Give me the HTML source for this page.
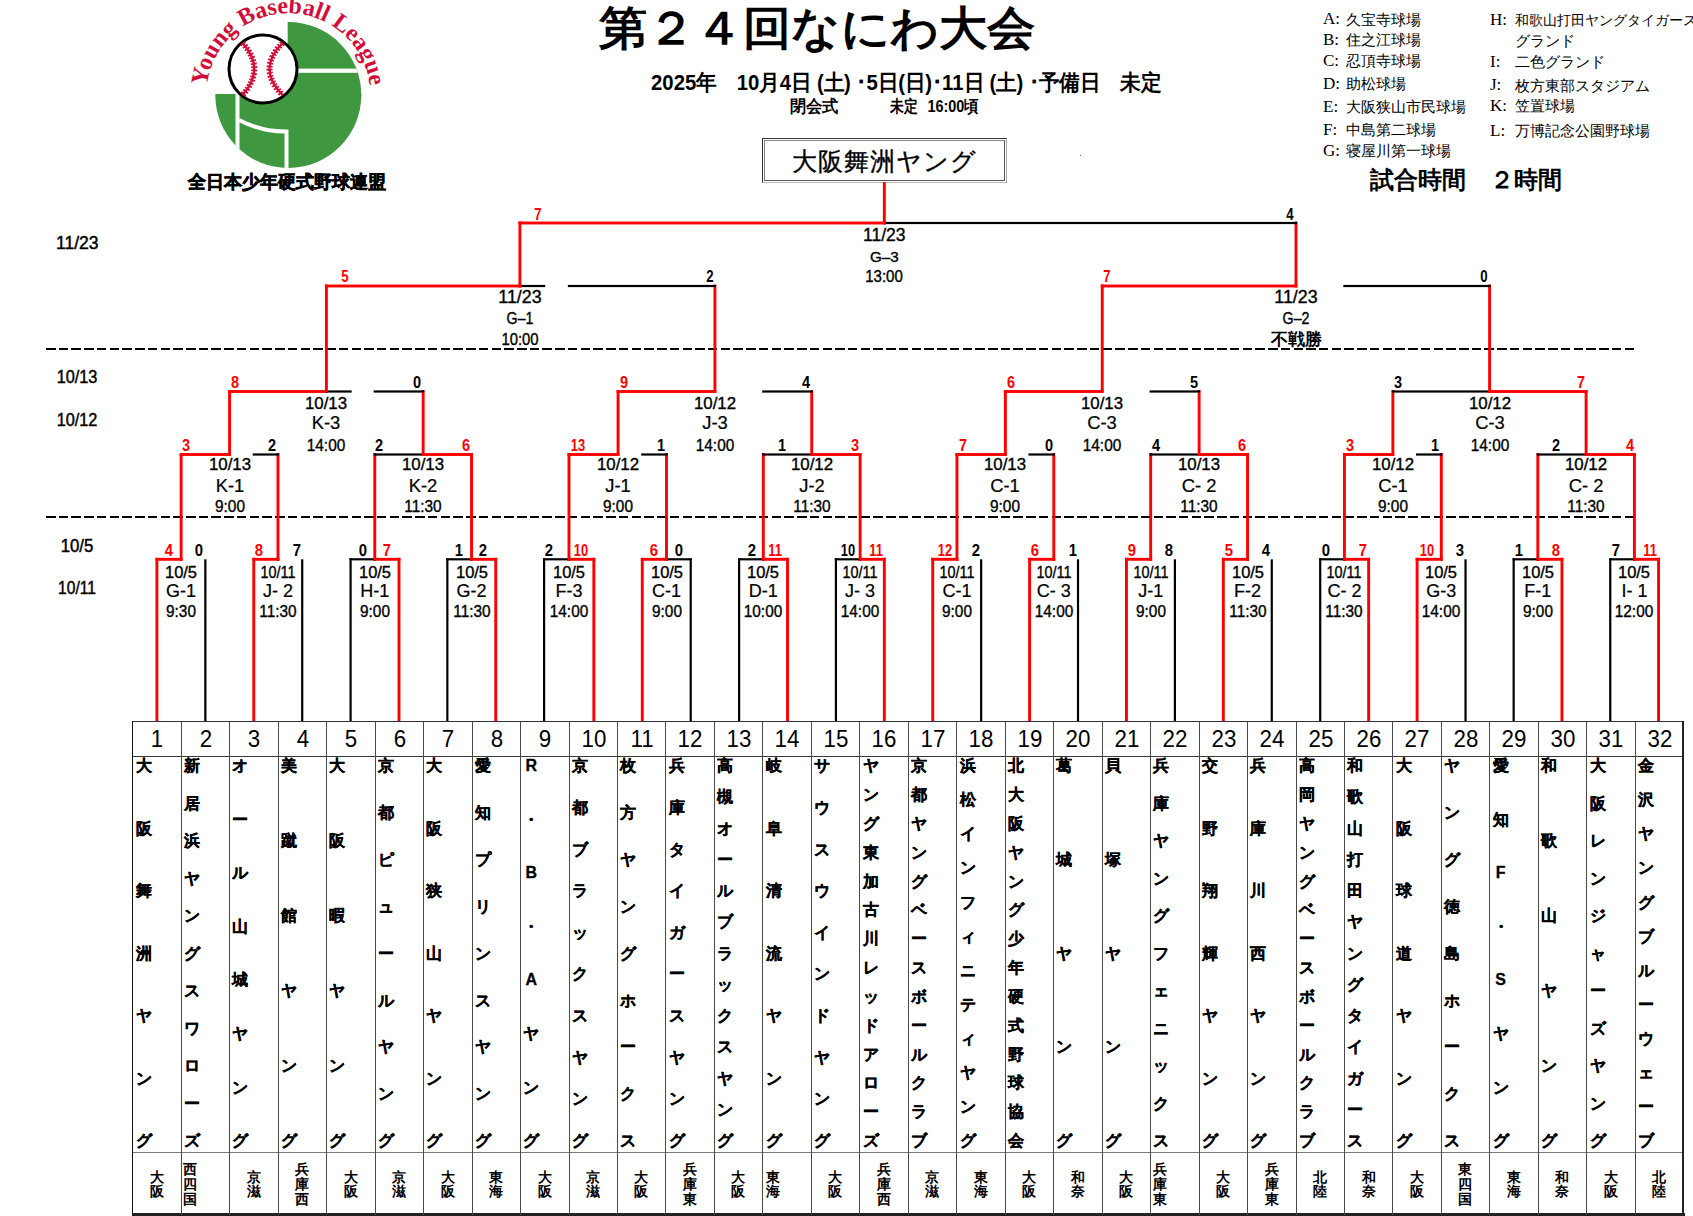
<!DOCTYPE html>
<html><head><meta charset="utf-8">
<style>
html,body{margin:0;padding:0;background:#fff;}
body{width:1693px;height:1216px;position:relative;overflow:hidden;font-family:"Liberation Sans",sans-serif;}
body div{position:absolute;}
.t{white-space:nowrap;line-height:1;}
.l{white-space:nowrap;line-height:1;color:#000;}
</style></head><body>
<svg style="position:absolute;left:0;top:0" width="420" height="200" viewBox="0 0 420 200">
<defs>
<clipPath id="gc"><circle cx="288.3" cy="95" r="73"/></clipPath>
<path id="arc" d="M 211.2 123.1 A 82 82 0 1 1 365.4 123.1"/>
</defs>
<g clip-path="url(#gc)">
<rect x="214" y="94" width="160" height="80" fill="#3f983f"/>
<rect x="287.7" y="20" width="80" height="80" fill="#3f983f"/>
<rect x="235.5" y="93" width="4" height="80" fill="#fff"/>
<rect x="298" y="68.6" width="80" height="4.2" fill="#fff"/>
<path d="M 239 120 Q 262 132 286.5 131.5 L 286.5 175" stroke="#fff" stroke-width="4" fill="none"/>
</g>
<circle cx="263" cy="69" r="34" fill="#fff" stroke="#000" stroke-width="3"/>
<path d="M 242.5 43 Q 266 69 242.5 95" stroke="#d0103a" stroke-width="2.4" fill="none"/>
<path d="M 282.6 43 Q 256.4 69 282.6 95" stroke="#d0103a" stroke-width="2.4" fill="none"/>
<path d="M 242.5 43 Q 266 69 242.5 95" stroke="#d0103a" stroke-width="6" stroke-dasharray="1.8 1.5" fill="none"/>
<path d="M 282.6 43 Q 256.4 69 282.6 95" stroke="#d0103a" stroke-width="6" stroke-dasharray="1.8 1.5" fill="none"/>
<text font-family="Liberation Serif, serif" font-size="24" font-weight="bold" fill="#d0103a"><textPath href="#arc" startOffset="50%" text-anchor="middle">Young Baseball League</textPath></text>
</svg><div class="t" style="left:287.2px;top:183.1px;font-size:17.5px;font-weight:bold;color:#000;transform:translate(-50%,-50%);font-family:'Liberation Serif', serif;-webkit-text-stroke:0.6px #000;">全日本少年硬式野球連盟</div>
<div class="t" style="left:816.5px;top:27.5px;font-size:46px;font-weight:bold;color:#000;transform:translate(-50%,-50%) scale(1.047,1.0);font-family:'Liberation Sans', sans-serif;">第２４回なにわ大会</div>
<div class="t" style="left:905.5px;top:81.5px;font-size:20px;font-weight:bold;color:#000;transform:translate(-50%,-50%) scale(1.015,1.08);font-family:'Liberation Sans', sans-serif;">2025年　10月4日 (土) ･5日(日)･11日 (土) ･予備日　未定</div>
<div class="t" style="left:814.3px;top:107.0px;font-size:16px;font-weight:bold;color:#000;transform:translate(-50%,-50%) scale(1.0,1.05);font-family:'Liberation Sans', sans-serif;">閉会式</div>
<div class="t" style="left:903.8px;top:107.0px;font-size:16px;font-weight:bold;color:#000;transform:translate(-50%,-50%) scale(0.85,1.05);font-family:'Liberation Sans', sans-serif;">未定</div>
<div class="t" style="left:953.0px;top:107.0px;font-size:16px;font-weight:bold;color:#000;transform:translate(-50%,-50%) scale(0.9,1.05);font-family:'Liberation Sans', sans-serif;">16:00頃</div>
<div class="t" style="left:1466.0px;top:180.0px;font-size:24px;font-weight:bold;color:#000;transform:translate(-50%,-50%);font-family:'Liberation Sans', sans-serif;">試合時間　２時間</div>
<div style="left:762px;top:138px;width:245px;height:45px;border-style:solid;border-width:1px;border-color:#333 #aaa #bbb #333;box-sizing:border-box;"></div>
<div style="left:764px;top:140px;width:241px;height:41px;border-style:solid;border-width:1px;border-color:#888 #555 #555 #888;box-sizing:border-box;"></div>
<div class="t" style="left:884.0px;top:160.5px;font-size:25px;font-weight:normal;color:#000;transform:translate(-50%,-50%);font-family:'Liberation Sans', sans-serif;-webkit-text-stroke:0.35px #000;letter-spacing:1px;">大阪舞洲ヤング</div>
<div style="left:1080px;top:155px;width:1px;height:1px;background:#555"></div>
<div class="l" style="left:1323px;top:10.2px;font-size:17px;font-family:'Liberation Serif',serif">A:</div>
<div class="l" style="left:1346px;top:12.5px;font-size:14.5px;">久宝寺球場</div>
<div class="l" style="left:1323px;top:30.7px;font-size:17px;font-family:'Liberation Serif',serif">B:</div>
<div class="l" style="left:1346px;top:33.0px;font-size:14.5px;">住之江球場</div>
<div class="l" style="left:1323px;top:51.7px;font-size:17px;font-family:'Liberation Serif',serif">C:</div>
<div class="l" style="left:1346px;top:54.0px;font-size:14.5px;">忍頂寺球場</div>
<div class="l" style="left:1323px;top:74.7px;font-size:17px;font-family:'Liberation Serif',serif">D:</div>
<div class="l" style="left:1346px;top:77.0px;font-size:14.5px;">助松球場</div>
<div class="l" style="left:1323px;top:97.7px;font-size:17px;font-family:'Liberation Serif',serif">E:</div>
<div class="l" style="left:1346px;top:100.0px;font-size:14.5px;">大阪狭山市民球場</div>
<div class="l" style="left:1323px;top:120.7px;font-size:17px;font-family:'Liberation Serif',serif">F:</div>
<div class="l" style="left:1346px;top:123.0px;font-size:14.5px;">中島第二球場</div>
<div class="l" style="left:1323px;top:141.7px;font-size:17px;font-family:'Liberation Serif',serif">G:</div>
<div class="l" style="left:1346px;top:144.0px;font-size:14.5px;">寝屋川第一球場</div>
<div class="l" style="left:1490px;top:10.7px;font-size:17px;font-family:'Liberation Serif',serif">H:</div>
<div class="l" style="left:1515px;top:13.0px;font-size:14px;white-space:nowrap">和歌山打田ヤングタイガース</div>
<div class="l" style="left:1515px;top:34.0px;font-size:14.5px;white-space:nowrap">グランド</div>
<div class="l" style="left:1490px;top:52.7px;font-size:17px;font-family:'Liberation Serif',serif">I:</div>
<div class="l" style="left:1515px;top:55.0px;font-size:14.5px;white-space:nowrap">二色グランド</div>
<div class="l" style="left:1490px;top:76.2px;font-size:17px;font-family:'Liberation Serif',serif">J:</div>
<div class="l" style="left:1515px;top:78.5px;font-size:14.5px;white-space:nowrap">枚方東部スタジアム</div>
<div class="l" style="left:1490px;top:96.7px;font-size:17px;font-family:'Liberation Serif',serif">K:</div>
<div class="l" style="left:1515px;top:99.0px;font-size:14.5px;white-space:nowrap">笠置球場</div>
<div class="l" style="left:1490px;top:121.7px;font-size:17px;font-family:'Liberation Serif',serif">L:</div>
<div class="l" style="left:1515px;top:124.0px;font-size:14.5px;white-space:nowrap">万博記念公園野球場</div>
<div class="t" style="left:77.3px;top:243.8px;font-size:17.5px;font-weight:normal;color:#000;transform:translate(-50%,-50%);font-family:'Liberation Sans', sans-serif;-webkit-text-stroke:0.45px #000;">11/23</div>
<div class="t" style="left:77.3px;top:378.2px;font-size:17.5px;font-weight:normal;color:#000;transform:translate(-50%,-50%) scale(0.93,1.0);font-family:'Liberation Sans', sans-serif;-webkit-text-stroke:0.45px #000;">10/13</div>
<div class="t" style="left:77.3px;top:421.2px;font-size:17.5px;font-weight:normal;color:#000;transform:translate(-50%,-50%) scale(0.93,1.0);font-family:'Liberation Sans', sans-serif;-webkit-text-stroke:0.45px #000;">10/12</div>
<div class="t" style="left:77.3px;top:547.3px;font-size:17.5px;font-weight:normal;color:#000;transform:translate(-50%,-50%) scale(0.96,1.0);font-family:'Liberation Sans', sans-serif;-webkit-text-stroke:0.45px #000;">10/5</div>
<div class="t" style="left:77.3px;top:589.1px;font-size:17.5px;font-weight:normal;color:#000;transform:translate(-50%,-50%) scale(0.89,1.0);font-family:'Liberation Sans', sans-serif;-webkit-text-stroke:0.45px #000;">10/11</div>
<div style="left:45.9px;top:347.6px;width:1589.1px;height:2.2px;background:repeating-linear-gradient(90deg,#000 0 9.5px,transparent 9.5px 12.73px)"></div>
<div style="left:45.9px;top:515.9px;width:1589.1px;height:2.2px;background:repeating-linear-gradient(90deg,#000 0 9.5px,transparent 9.5px 12.73px)"></div>
<svg style="position:absolute;left:0;top:0" width="1693" height="1216"><rect x="155.45" y="557.80" width="2.90" height="164.20" fill="#ff0000"/>
<rect x="155.45" y="557.85" width="27.12" height="2.90" fill="#ff0000"/>
<rect x="204.24" y="559.30" width="2.20" height="162.70" fill="#000000"/>
<rect x="179.67" y="453.00" width="2.90" height="107.80" fill="#ff0000"/>
<rect x="252.33" y="557.80" width="2.90" height="164.20" fill="#ff0000"/>
<rect x="252.33" y="557.85" width="27.12" height="2.90" fill="#ff0000"/>
<rect x="301.11" y="559.30" width="2.20" height="162.70" fill="#000000"/>
<rect x="276.54" y="453.00" width="2.90" height="107.80" fill="#ff0000"/>
<rect x="397.52" y="557.80" width="2.90" height="164.20" fill="#ff0000"/>
<rect x="373.33" y="557.85" width="27.09" height="2.90" fill="#ff0000"/>
<rect x="349.49" y="558.20" width="26.39" height="2.20" fill="#000000"/>
<rect x="349.49" y="558.30" width="2.20" height="163.70" fill="#000000"/>
<rect x="373.33" y="453.00" width="2.90" height="107.80" fill="#ff0000"/>
<rect x="494.28" y="557.80" width="2.90" height="164.20" fill="#ff0000"/>
<rect x="470.09" y="557.85" width="27.09" height="2.90" fill="#ff0000"/>
<rect x="446.25" y="558.20" width="26.39" height="2.20" fill="#000000"/>
<rect x="446.25" y="558.30" width="2.20" height="163.70" fill="#000000"/>
<rect x="470.09" y="453.00" width="2.90" height="107.80" fill="#ff0000"/>
<rect x="592.39" y="557.80" width="2.90" height="164.20" fill="#ff0000"/>
<rect x="567.52" y="557.85" width="27.77" height="2.90" fill="#ff0000"/>
<rect x="543.00" y="558.20" width="27.07" height="2.20" fill="#000000"/>
<rect x="543.00" y="558.30" width="2.20" height="163.70" fill="#000000"/>
<rect x="567.52" y="453.00" width="2.90" height="107.80" fill="#ff0000"/>
<rect x="640.83" y="557.80" width="2.90" height="164.20" fill="#ff0000"/>
<rect x="640.83" y="557.85" width="27.12" height="2.90" fill="#ff0000"/>
<rect x="665.40" y="558.20" width="26.42" height="2.20" fill="#000000"/>
<rect x="689.62" y="558.30" width="2.20" height="163.70" fill="#000000"/>
<rect x="665.05" y="453.00" width="2.90" height="107.80" fill="#ff0000"/>
<rect x="786.07" y="557.80" width="2.90" height="164.20" fill="#ff0000"/>
<rect x="761.87" y="557.85" width="27.10" height="2.90" fill="#ff0000"/>
<rect x="738.02" y="558.20" width="26.40" height="2.20" fill="#000000"/>
<rect x="738.02" y="558.30" width="2.20" height="163.70" fill="#000000"/>
<rect x="761.87" y="453.00" width="2.90" height="107.80" fill="#ff0000"/>
<rect x="882.87" y="557.80" width="2.90" height="164.20" fill="#ff0000"/>
<rect x="858.67" y="557.85" width="27.10" height="2.90" fill="#ff0000"/>
<rect x="834.82" y="558.20" width="26.40" height="2.20" fill="#000000"/>
<rect x="834.82" y="558.30" width="2.20" height="163.70" fill="#000000"/>
<rect x="858.67" y="453.00" width="2.90" height="107.80" fill="#ff0000"/>
<rect x="931.29" y="557.80" width="2.90" height="164.20" fill="#ff0000"/>
<rect x="931.29" y="557.85" width="27.11" height="2.90" fill="#ff0000"/>
<rect x="980.06" y="559.30" width="2.20" height="162.70" fill="#000000"/>
<rect x="955.50" y="453.00" width="2.90" height="107.80" fill="#ff0000"/>
<rect x="1028.13" y="557.80" width="2.90" height="164.20" fill="#ff0000"/>
<rect x="1028.13" y="557.85" width="27.12" height="2.90" fill="#ff0000"/>
<rect x="1076.92" y="559.30" width="2.20" height="162.70" fill="#000000"/>
<rect x="1052.35" y="453.00" width="2.90" height="107.80" fill="#ff0000"/>
<rect x="1125.01" y="557.80" width="2.90" height="164.20" fill="#ff0000"/>
<rect x="1125.01" y="557.85" width="27.12" height="2.90" fill="#ff0000"/>
<rect x="1173.80" y="559.30" width="2.20" height="162.70" fill="#000000"/>
<rect x="1149.23" y="453.00" width="2.90" height="107.80" fill="#ff0000"/>
<rect x="1221.88" y="557.80" width="2.90" height="164.20" fill="#ff0000"/>
<rect x="1221.88" y="557.85" width="27.12" height="2.90" fill="#ff0000"/>
<rect x="1270.67" y="559.30" width="2.20" height="162.70" fill="#000000"/>
<rect x="1246.10" y="453.00" width="2.90" height="107.80" fill="#ff0000"/>
<rect x="1367.20" y="557.80" width="2.90" height="164.20" fill="#ff0000"/>
<rect x="1342.98" y="557.85" width="27.12" height="2.90" fill="#ff0000"/>
<rect x="1319.11" y="558.20" width="26.42" height="2.20" fill="#000000"/>
<rect x="1319.11" y="558.30" width="2.20" height="163.70" fill="#000000"/>
<rect x="1342.98" y="453.00" width="2.90" height="107.80" fill="#ff0000"/>
<rect x="1415.64" y="557.80" width="2.90" height="164.20" fill="#ff0000"/>
<rect x="1415.64" y="557.85" width="27.12" height="2.90" fill="#ff0000"/>
<rect x="1464.43" y="559.30" width="2.20" height="162.70" fill="#000000"/>
<rect x="1439.86" y="453.00" width="2.90" height="107.80" fill="#ff0000"/>
<rect x="1560.51" y="557.80" width="2.90" height="164.20" fill="#ff0000"/>
<rect x="1536.36" y="557.85" width="27.05" height="2.90" fill="#ff0000"/>
<rect x="1512.56" y="558.20" width="26.35" height="2.20" fill="#000000"/>
<rect x="1512.56" y="558.30" width="2.20" height="163.70" fill="#000000"/>
<rect x="1536.36" y="453.00" width="2.90" height="107.80" fill="#ff0000"/>
<rect x="1657.10" y="557.80" width="2.90" height="164.20" fill="#ff0000"/>
<rect x="1632.95" y="557.85" width="27.05" height="2.90" fill="#ff0000"/>
<rect x="1609.15" y="558.20" width="26.35" height="2.20" fill="#000000"/>
<rect x="1609.15" y="558.30" width="2.20" height="163.70" fill="#000000"/>
<rect x="1632.95" y="453.00" width="2.90" height="107.80" fill="#ff0000"/>
<rect x="179.67" y="453.05" width="51.34" height="2.90" fill="#ff0000"/>
<rect x="252.68" y="453.40" width="26.42" height="2.20" fill="#000000"/>
<rect x="228.11" y="390.00" width="2.90" height="65.50" fill="#ff0000"/>
<rect x="373.68" y="453.40" width="50.58" height="2.20" fill="#000000"/>
<rect x="421.71" y="453.05" width="51.28" height="2.90" fill="#ff0000"/>
<rect x="421.71" y="390.00" width="2.90" height="65.50" fill="#ff0000"/>
<rect x="567.52" y="453.05" width="51.99" height="2.90" fill="#ff0000"/>
<rect x="641.18" y="453.40" width="26.42" height="2.20" fill="#000000"/>
<rect x="616.61" y="390.00" width="2.90" height="65.50" fill="#ff0000"/>
<rect x="762.22" y="453.40" width="50.60" height="2.20" fill="#000000"/>
<rect x="810.27" y="453.05" width="51.30" height="2.90" fill="#ff0000"/>
<rect x="810.27" y="390.00" width="2.90" height="65.50" fill="#ff0000"/>
<rect x="955.50" y="453.05" width="51.32" height="2.90" fill="#ff0000"/>
<rect x="1028.48" y="453.40" width="26.42" height="2.20" fill="#000000"/>
<rect x="1003.92" y="390.00" width="2.90" height="65.50" fill="#ff0000"/>
<rect x="1149.58" y="453.40" width="50.64" height="2.20" fill="#000000"/>
<rect x="1197.67" y="453.05" width="51.34" height="2.90" fill="#ff0000"/>
<rect x="1197.67" y="390.00" width="2.90" height="65.50" fill="#ff0000"/>
<rect x="1342.98" y="453.05" width="51.34" height="2.90" fill="#ff0000"/>
<rect x="1415.99" y="453.40" width="26.42" height="2.20" fill="#000000"/>
<rect x="1391.42" y="390.00" width="2.90" height="65.50" fill="#ff0000"/>
<rect x="1536.71" y="453.40" width="50.50" height="2.20" fill="#000000"/>
<rect x="1584.66" y="453.05" width="51.20" height="2.90" fill="#ff0000"/>
<rect x="1584.66" y="390.00" width="2.90" height="65.50" fill="#ff0000"/>
<rect x="228.11" y="390.05" width="99.75" height="2.90" fill="#ff0000"/>
<rect x="325.30" y="390.40" width="26.39" height="2.20" fill="#000000"/>
<rect x="373.68" y="390.40" width="50.58" height="2.20" fill="#000000"/>
<rect x="324.95" y="284.50" width="2.90" height="108.00" fill="#ff0000"/>
<rect x="616.61" y="390.05" width="99.76" height="2.90" fill="#ff0000"/>
<rect x="762.22" y="390.40" width="50.60" height="2.20" fill="#000000"/>
<rect x="713.47" y="284.50" width="2.90" height="108.00" fill="#ff0000"/>
<rect x="1003.92" y="390.05" width="99.77" height="2.90" fill="#ff0000"/>
<rect x="1149.58" y="390.40" width="50.64" height="2.20" fill="#000000"/>
<rect x="1100.79" y="284.50" width="2.90" height="108.00" fill="#ff0000"/>
<rect x="1391.77" y="390.40" width="98.93" height="2.20" fill="#000000"/>
<rect x="1488.14" y="390.05" width="99.41" height="2.90" fill="#ff0000"/>
<rect x="1488.14" y="284.50" width="2.90" height="108.00" fill="#ff0000"/>
<rect x="324.95" y="284.55" width="196.41" height="2.90" fill="#ff0000"/>
<rect x="518.81" y="284.90" width="26.39" height="2.20" fill="#000000"/>
<rect x="567.87" y="284.90" width="148.15" height="2.20" fill="#000000"/>
<rect x="518.46" y="221.50" width="2.90" height="66.00" fill="#ff0000"/>
<rect x="1100.79" y="284.55" width="196.65" height="2.90" fill="#ff0000"/>
<rect x="1343.33" y="284.90" width="147.36" height="2.20" fill="#000000"/>
<rect x="1294.54" y="221.50" width="2.90" height="66.00" fill="#ff0000"/>
<rect x="518.46" y="221.55" width="367.31" height="2.90" fill="#ff0000"/>
<rect x="883.22" y="221.90" width="413.87" height="2.20" fill="#000000"/>
<rect x="882.87" y="182.00" width="2.90" height="42.50" fill="#ff0000"/></svg>
<div class="t" style="left:169.0px;top:550.0px;font-size:16.5px;font-weight:bold;color:#ff0000;transform:translate(-50%,-50%) scale(0.9,1.0);font-family:'Liberation Sans', sans-serif;">4</div>
<div class="t" style="left:199.0px;top:550.0px;font-size:16.5px;font-weight:bold;color:#000000;transform:translate(-50%,-50%) scale(0.9,1.0);font-family:'Liberation Sans', sans-serif;">0</div>
<div class="t" style="left:181.1px;top:572.6px;font-size:16px;font-weight:normal;color:#000;transform:translate(-50%,-50%) scale(1.03,1.0);font-family:'Liberation Sans', sans-serif;-webkit-text-stroke:0.35px #000;">10/5</div>
<div class="t" style="left:181.1px;top:590.5px;font-size:18px;font-weight:normal;color:#000;transform:translate(-50%,-50%);font-family:'Liberation Sans', sans-serif;-webkit-text-stroke:0.2px #000;">G-1</div>
<div class="t" style="left:181.1px;top:612.3px;font-size:16px;font-weight:normal;color:#000;transform:translate(-50%,-50%) scale(0.96,1.0);font-family:'Liberation Sans', sans-serif;-webkit-text-stroke:0.35px #000;">9:30</div>
<div class="t" style="left:259.0px;top:550.0px;font-size:16.5px;font-weight:bold;color:#ff0000;transform:translate(-50%,-50%) scale(0.9,1.0);font-family:'Liberation Sans', sans-serif;">8</div>
<div class="t" style="left:297.0px;top:550.0px;font-size:16.5px;font-weight:bold;color:#000000;transform:translate(-50%,-50%) scale(0.9,1.0);font-family:'Liberation Sans', sans-serif;">7</div>
<div class="t" style="left:278.0px;top:572.6px;font-size:16px;font-weight:normal;color:#000;transform:translate(-50%,-50%) scale(0.9,1.0);font-family:'Liberation Sans', sans-serif;-webkit-text-stroke:0.35px #000;">10/11</div>
<div class="t" style="left:278.0px;top:590.5px;font-size:18px;font-weight:normal;color:#000;transform:translate(-50%,-50%);font-family:'Liberation Sans', sans-serif;-webkit-text-stroke:0.2px #000;">J- 2</div>
<div class="t" style="left:278.0px;top:612.3px;font-size:16px;font-weight:normal;color:#000;transform:translate(-50%,-50%) scale(0.96,1.0);font-family:'Liberation Sans', sans-serif;-webkit-text-stroke:0.35px #000;">11:30</div>
<div class="t" style="left:362.7px;top:550.0px;font-size:16.5px;font-weight:bold;color:#000000;transform:translate(-50%,-50%) scale(0.9,1.0);font-family:'Liberation Sans', sans-serif;">0</div>
<div class="t" style="left:386.5px;top:550.0px;font-size:16.5px;font-weight:bold;color:#ff0000;transform:translate(-50%,-50%) scale(0.9,1.0);font-family:'Liberation Sans', sans-serif;">7</div>
<div class="t" style="left:374.8px;top:572.6px;font-size:16px;font-weight:normal;color:#000;transform:translate(-50%,-50%) scale(1.03,1.0);font-family:'Liberation Sans', sans-serif;-webkit-text-stroke:0.35px #000;">10/5</div>
<div class="t" style="left:374.8px;top:590.5px;font-size:18px;font-weight:normal;color:#000;transform:translate(-50%,-50%);font-family:'Liberation Sans', sans-serif;-webkit-text-stroke:0.2px #000;">H-1</div>
<div class="t" style="left:374.8px;top:612.3px;font-size:16px;font-weight:normal;color:#000;transform:translate(-50%,-50%) scale(0.96,1.0);font-family:'Liberation Sans', sans-serif;-webkit-text-stroke:0.35px #000;">9:00</div>
<div class="t" style="left:458.5px;top:550.0px;font-size:16.5px;font-weight:bold;color:#000;transform:translate(-50%,-50%) scale(0.9,1.0);font-family:'Liberation Sans', sans-serif;">1</div>
<div class="t" style="left:483.4px;top:550.0px;font-size:16.5px;font-weight:bold;color:#000;transform:translate(-50%,-50%) scale(0.9,1.0);font-family:'Liberation Sans', sans-serif;">2</div>
<div class="t" style="left:471.5px;top:572.6px;font-size:16px;font-weight:normal;color:#000;transform:translate(-50%,-50%) scale(1.03,1.0);font-family:'Liberation Sans', sans-serif;-webkit-text-stroke:0.35px #000;">10/5</div>
<div class="t" style="left:471.5px;top:590.5px;font-size:18px;font-weight:normal;color:#000;transform:translate(-50%,-50%);font-family:'Liberation Sans', sans-serif;-webkit-text-stroke:0.2px #000;">G-2</div>
<div class="t" style="left:471.5px;top:612.3px;font-size:16px;font-weight:normal;color:#000;transform:translate(-50%,-50%) scale(0.96,1.0);font-family:'Liberation Sans', sans-serif;-webkit-text-stroke:0.35px #000;">11:30</div>
<div class="t" style="left:548.8px;top:550.0px;font-size:16.5px;font-weight:bold;color:#000000;transform:translate(-50%,-50%) scale(0.9,1.0);font-family:'Liberation Sans', sans-serif;">2</div>
<div class="t" style="left:581.4px;top:550.0px;font-size:16.5px;font-weight:bold;color:#ff0000;transform:translate(-50%,-50%) scale(0.78,1.0);font-family:'Liberation Sans', sans-serif;">10</div>
<div class="t" style="left:569.0px;top:572.6px;font-size:16px;font-weight:normal;color:#000;transform:translate(-50%,-50%) scale(1.03,1.0);font-family:'Liberation Sans', sans-serif;-webkit-text-stroke:0.35px #000;">10/5</div>
<div class="t" style="left:569.0px;top:590.5px;font-size:18px;font-weight:normal;color:#000;transform:translate(-50%,-50%);font-family:'Liberation Sans', sans-serif;-webkit-text-stroke:0.2px #000;">F-3</div>
<div class="t" style="left:569.0px;top:612.3px;font-size:16px;font-weight:normal;color:#000;transform:translate(-50%,-50%) scale(0.96,1.0);font-family:'Liberation Sans', sans-serif;-webkit-text-stroke:0.35px #000;">14:00</div>
<div class="t" style="left:654.2px;top:550.0px;font-size:16.5px;font-weight:bold;color:#ff0000;transform:translate(-50%,-50%) scale(0.9,1.0);font-family:'Liberation Sans', sans-serif;">6</div>
<div class="t" style="left:678.8px;top:550.0px;font-size:16.5px;font-weight:bold;color:#000000;transform:translate(-50%,-50%) scale(0.9,1.0);font-family:'Liberation Sans', sans-serif;">0</div>
<div class="t" style="left:666.5px;top:572.6px;font-size:16px;font-weight:normal;color:#000;transform:translate(-50%,-50%) scale(1.03,1.0);font-family:'Liberation Sans', sans-serif;-webkit-text-stroke:0.35px #000;">10/5</div>
<div class="t" style="left:666.5px;top:590.5px;font-size:18px;font-weight:normal;color:#000;transform:translate(-50%,-50%);font-family:'Liberation Sans', sans-serif;-webkit-text-stroke:0.2px #000;">C-1</div>
<div class="t" style="left:666.5px;top:612.3px;font-size:16px;font-weight:normal;color:#000;transform:translate(-50%,-50%) scale(0.96,1.0);font-family:'Liberation Sans', sans-serif;-webkit-text-stroke:0.35px #000;">9:00</div>
<div class="t" style="left:751.5px;top:550.0px;font-size:16.5px;font-weight:bold;color:#000000;transform:translate(-50%,-50%) scale(0.9,1.0);font-family:'Liberation Sans', sans-serif;">2</div>
<div class="t" style="left:775.2px;top:550.0px;font-size:16.5px;font-weight:bold;color:#ff0000;transform:translate(-50%,-50%) scale(0.78,1.0);font-family:'Liberation Sans', sans-serif;">11</div>
<div class="t" style="left:763.3px;top:572.6px;font-size:16px;font-weight:normal;color:#000;transform:translate(-50%,-50%) scale(1.03,1.0);font-family:'Liberation Sans', sans-serif;-webkit-text-stroke:0.35px #000;">10/5</div>
<div class="t" style="left:763.3px;top:590.5px;font-size:18px;font-weight:normal;color:#000;transform:translate(-50%,-50%);font-family:'Liberation Sans', sans-serif;-webkit-text-stroke:0.2px #000;">D-1</div>
<div class="t" style="left:763.3px;top:612.3px;font-size:16px;font-weight:normal;color:#000;transform:translate(-50%,-50%) scale(0.96,1.0);font-family:'Liberation Sans', sans-serif;-webkit-text-stroke:0.35px #000;">10:00</div>
<div class="t" style="left:848.4px;top:550.0px;font-size:16.5px;font-weight:bold;color:#000000;transform:translate(-50%,-50%) scale(0.78,1.0);font-family:'Liberation Sans', sans-serif;">10</div>
<div class="t" style="left:875.6px;top:550.0px;font-size:16.5px;font-weight:bold;color:#ff0000;transform:translate(-50%,-50%) scale(0.78,1.0);font-family:'Liberation Sans', sans-serif;">11</div>
<div class="t" style="left:860.1px;top:572.6px;font-size:16px;font-weight:normal;color:#000;transform:translate(-50%,-50%) scale(0.9,1.0);font-family:'Liberation Sans', sans-serif;-webkit-text-stroke:0.35px #000;">10/11</div>
<div class="t" style="left:860.1px;top:590.5px;font-size:18px;font-weight:normal;color:#000;transform:translate(-50%,-50%);font-family:'Liberation Sans', sans-serif;-webkit-text-stroke:0.2px #000;">J- 3</div>
<div class="t" style="left:860.1px;top:612.3px;font-size:16px;font-weight:normal;color:#000;transform:translate(-50%,-50%) scale(0.96,1.0);font-family:'Liberation Sans', sans-serif;-webkit-text-stroke:0.35px #000;">14:00</div>
<div class="t" style="left:945.4px;top:550.0px;font-size:16.5px;font-weight:bold;color:#ff0000;transform:translate(-50%,-50%) scale(0.78,1.0);font-family:'Liberation Sans', sans-serif;">12</div>
<div class="t" style="left:976.2px;top:550.0px;font-size:16.5px;font-weight:bold;color:#000000;transform:translate(-50%,-50%) scale(0.9,1.0);font-family:'Liberation Sans', sans-serif;">2</div>
<div class="t" style="left:957.0px;top:572.6px;font-size:16px;font-weight:normal;color:#000;transform:translate(-50%,-50%) scale(0.9,1.0);font-family:'Liberation Sans', sans-serif;-webkit-text-stroke:0.35px #000;">10/11</div>
<div class="t" style="left:957.0px;top:590.5px;font-size:18px;font-weight:normal;color:#000;transform:translate(-50%,-50%);font-family:'Liberation Sans', sans-serif;-webkit-text-stroke:0.2px #000;">C-1</div>
<div class="t" style="left:957.0px;top:612.3px;font-size:16px;font-weight:normal;color:#000;transform:translate(-50%,-50%) scale(0.96,1.0);font-family:'Liberation Sans', sans-serif;-webkit-text-stroke:0.35px #000;">9:00</div>
<div class="t" style="left:1035.2px;top:550.0px;font-size:16.5px;font-weight:bold;color:#ff0000;transform:translate(-50%,-50%) scale(0.9,1.0);font-family:'Liberation Sans', sans-serif;">6</div>
<div class="t" style="left:1072.6px;top:550.0px;font-size:16.5px;font-weight:bold;color:#000000;transform:translate(-50%,-50%) scale(0.9,1.0);font-family:'Liberation Sans', sans-serif;">1</div>
<div class="t" style="left:1053.8px;top:572.6px;font-size:16px;font-weight:normal;color:#000;transform:translate(-50%,-50%) scale(0.9,1.0);font-family:'Liberation Sans', sans-serif;-webkit-text-stroke:0.35px #000;">10/11</div>
<div class="t" style="left:1053.8px;top:590.5px;font-size:18px;font-weight:normal;color:#000;transform:translate(-50%,-50%);font-family:'Liberation Sans', sans-serif;-webkit-text-stroke:0.2px #000;">C- 3</div>
<div class="t" style="left:1053.8px;top:612.3px;font-size:16px;font-weight:normal;color:#000;transform:translate(-50%,-50%) scale(0.96,1.0);font-family:'Liberation Sans', sans-serif;-webkit-text-stroke:0.35px #000;">14:00</div>
<div class="t" style="left:1131.6px;top:550.0px;font-size:16.5px;font-weight:bold;color:#ff0000;transform:translate(-50%,-50%) scale(0.9,1.0);font-family:'Liberation Sans', sans-serif;">9</div>
<div class="t" style="left:1169.4px;top:550.0px;font-size:16.5px;font-weight:bold;color:#000000;transform:translate(-50%,-50%) scale(0.9,1.0);font-family:'Liberation Sans', sans-serif;">8</div>
<div class="t" style="left:1150.7px;top:572.6px;font-size:16px;font-weight:normal;color:#000;transform:translate(-50%,-50%) scale(0.9,1.0);font-family:'Liberation Sans', sans-serif;-webkit-text-stroke:0.35px #000;">10/11</div>
<div class="t" style="left:1150.7px;top:590.5px;font-size:18px;font-weight:normal;color:#000;transform:translate(-50%,-50%);font-family:'Liberation Sans', sans-serif;-webkit-text-stroke:0.2px #000;">J-1</div>
<div class="t" style="left:1150.7px;top:612.3px;font-size:16px;font-weight:normal;color:#000;transform:translate(-50%,-50%) scale(0.96,1.0);font-family:'Liberation Sans', sans-serif;-webkit-text-stroke:0.35px #000;">9:00</div>
<div class="t" style="left:1229.0px;top:550.0px;font-size:16.5px;font-weight:bold;color:#ff0000;transform:translate(-50%,-50%) scale(0.9,1.0);font-family:'Liberation Sans', sans-serif;">5</div>
<div class="t" style="left:1266.3px;top:550.0px;font-size:16.5px;font-weight:bold;color:#000000;transform:translate(-50%,-50%) scale(0.9,1.0);font-family:'Liberation Sans', sans-serif;">4</div>
<div class="t" style="left:1247.6px;top:572.6px;font-size:16px;font-weight:normal;color:#000;transform:translate(-50%,-50%) scale(1.03,1.0);font-family:'Liberation Sans', sans-serif;-webkit-text-stroke:0.35px #000;">10/5</div>
<div class="t" style="left:1247.6px;top:590.5px;font-size:18px;font-weight:normal;color:#000;transform:translate(-50%,-50%);font-family:'Liberation Sans', sans-serif;-webkit-text-stroke:0.2px #000;">F-2</div>
<div class="t" style="left:1247.6px;top:612.3px;font-size:16px;font-weight:normal;color:#000;transform:translate(-50%,-50%) scale(0.96,1.0);font-family:'Liberation Sans', sans-serif;-webkit-text-stroke:0.35px #000;">11:30</div>
<div class="t" style="left:1325.6px;top:550.0px;font-size:16.5px;font-weight:bold;color:#000000;transform:translate(-50%,-50%) scale(0.9,1.0);font-family:'Liberation Sans', sans-serif;">0</div>
<div class="t" style="left:1363.2px;top:550.0px;font-size:16.5px;font-weight:bold;color:#ff0000;transform:translate(-50%,-50%) scale(0.9,1.0);font-family:'Liberation Sans', sans-serif;">7</div>
<div class="t" style="left:1344.4px;top:572.6px;font-size:16px;font-weight:normal;color:#000;transform:translate(-50%,-50%) scale(0.9,1.0);font-family:'Liberation Sans', sans-serif;-webkit-text-stroke:0.35px #000;">10/11</div>
<div class="t" style="left:1344.4px;top:590.5px;font-size:18px;font-weight:normal;color:#000;transform:translate(-50%,-50%);font-family:'Liberation Sans', sans-serif;-webkit-text-stroke:0.2px #000;">C- 2</div>
<div class="t" style="left:1344.4px;top:612.3px;font-size:16px;font-weight:normal;color:#000;transform:translate(-50%,-50%) scale(0.96,1.0);font-family:'Liberation Sans', sans-serif;-webkit-text-stroke:0.35px #000;">11:30</div>
<div class="t" style="left:1426.5px;top:550.0px;font-size:16.5px;font-weight:bold;color:#ff0000;transform:translate(-50%,-50%) scale(0.78,1.0);font-family:'Liberation Sans', sans-serif;">10</div>
<div class="t" style="left:1459.6px;top:550.0px;font-size:16.5px;font-weight:bold;color:#000000;transform:translate(-50%,-50%) scale(0.9,1.0);font-family:'Liberation Sans', sans-serif;">3</div>
<div class="t" style="left:1441.3px;top:572.6px;font-size:16px;font-weight:normal;color:#000;transform:translate(-50%,-50%) scale(1.03,1.0);font-family:'Liberation Sans', sans-serif;-webkit-text-stroke:0.35px #000;">10/5</div>
<div class="t" style="left:1441.3px;top:590.5px;font-size:18px;font-weight:normal;color:#000;transform:translate(-50%,-50%);font-family:'Liberation Sans', sans-serif;-webkit-text-stroke:0.2px #000;">G-3</div>
<div class="t" style="left:1441.3px;top:612.3px;font-size:16px;font-weight:normal;color:#000;transform:translate(-50%,-50%) scale(0.96,1.0);font-family:'Liberation Sans', sans-serif;-webkit-text-stroke:0.35px #000;">14:00</div>
<div class="t" style="left:1518.6px;top:550.0px;font-size:16.5px;font-weight:bold;color:#000000;transform:translate(-50%,-50%) scale(0.9,1.0);font-family:'Liberation Sans', sans-serif;">1</div>
<div class="t" style="left:1556.4px;top:550.0px;font-size:16.5px;font-weight:bold;color:#ff0000;transform:translate(-50%,-50%) scale(0.9,1.0);font-family:'Liberation Sans', sans-serif;">8</div>
<div class="t" style="left:1537.8px;top:572.6px;font-size:16px;font-weight:normal;color:#000;transform:translate(-50%,-50%) scale(1.03,1.0);font-family:'Liberation Sans', sans-serif;-webkit-text-stroke:0.35px #000;">10/5</div>
<div class="t" style="left:1537.8px;top:590.5px;font-size:18px;font-weight:normal;color:#000;transform:translate(-50%,-50%);font-family:'Liberation Sans', sans-serif;-webkit-text-stroke:0.2px #000;">F-1</div>
<div class="t" style="left:1537.8px;top:612.3px;font-size:16px;font-weight:normal;color:#000;transform:translate(-50%,-50%) scale(0.96,1.0);font-family:'Liberation Sans', sans-serif;-webkit-text-stroke:0.35px #000;">9:00</div>
<div class="t" style="left:1615.5px;top:550.0px;font-size:16.5px;font-weight:bold;color:#000000;transform:translate(-50%,-50%) scale(0.9,1.0);font-family:'Liberation Sans', sans-serif;">7</div>
<div class="t" style="left:1649.8px;top:550.0px;font-size:16.5px;font-weight:bold;color:#ff0000;transform:translate(-50%,-50%) scale(0.78,1.0);font-family:'Liberation Sans', sans-serif;">11</div>
<div class="t" style="left:1634.4px;top:572.6px;font-size:16px;font-weight:normal;color:#000;transform:translate(-50%,-50%) scale(1.03,1.0);font-family:'Liberation Sans', sans-serif;-webkit-text-stroke:0.35px #000;">10/5</div>
<div class="t" style="left:1634.4px;top:590.5px;font-size:18px;font-weight:normal;color:#000;transform:translate(-50%,-50%);font-family:'Liberation Sans', sans-serif;-webkit-text-stroke:0.2px #000;">I- 1</div>
<div class="t" style="left:1634.4px;top:612.3px;font-size:16px;font-weight:normal;color:#000;transform:translate(-50%,-50%) scale(0.96,1.0);font-family:'Liberation Sans', sans-serif;-webkit-text-stroke:0.35px #000;">12:00</div>
<div class="t" style="left:186.3px;top:445.0px;font-size:16.5px;font-weight:bold;color:#ff0000;transform:translate(-50%,-50%) scale(0.88,1.0);font-family:'Liberation Sans', sans-serif;">3</div>
<div class="t" style="left:271.8px;top:445.0px;font-size:16.5px;font-weight:bold;color:#000000;transform:translate(-50%,-50%) scale(0.88,1.0);font-family:'Liberation Sans', sans-serif;">2</div>
<div class="t" style="left:229.6px;top:464.7px;font-size:17.2px;font-weight:normal;color:#000;transform:translate(-50%,-50%) scale(0.98,1.0);font-family:'Liberation Sans', sans-serif;-webkit-text-stroke:0.35px #000;">10/13</div>
<div class="t" style="left:229.6px;top:485.6px;font-size:18px;font-weight:normal;color:#000;transform:translate(-50%,-50%) scale(1.02,1.0);font-family:'Liberation Sans', sans-serif;-webkit-text-stroke:0.2px #000;">K-1</div>
<div class="t" style="left:229.6px;top:506.4px;font-size:16.2px;font-weight:normal;color:#000;transform:translate(-50%,-50%) scale(0.95,1.0);font-family:'Liberation Sans', sans-serif;-webkit-text-stroke:0.35px #000;">9:00</div>
<div class="t" style="left:379.4px;top:445.0px;font-size:16.5px;font-weight:bold;color:#000000;transform:translate(-50%,-50%) scale(0.88,1.0);font-family:'Liberation Sans', sans-serif;">2</div>
<div class="t" style="left:465.7px;top:445.0px;font-size:16.5px;font-weight:bold;color:#ff0000;transform:translate(-50%,-50%) scale(0.88,1.0);font-family:'Liberation Sans', sans-serif;">6</div>
<div class="t" style="left:423.2px;top:464.7px;font-size:17.2px;font-weight:normal;color:#000;transform:translate(-50%,-50%) scale(0.98,1.0);font-family:'Liberation Sans', sans-serif;-webkit-text-stroke:0.35px #000;">10/13</div>
<div class="t" style="left:423.2px;top:485.6px;font-size:18px;font-weight:normal;color:#000;transform:translate(-50%,-50%) scale(1.02,1.0);font-family:'Liberation Sans', sans-serif;-webkit-text-stroke:0.2px #000;">K-2</div>
<div class="t" style="left:423.2px;top:506.4px;font-size:16.2px;font-weight:normal;color:#000;transform:translate(-50%,-50%) scale(0.95,1.0);font-family:'Liberation Sans', sans-serif;-webkit-text-stroke:0.35px #000;">11:30</div>
<div class="t" style="left:577.9px;top:445.0px;font-size:16.5px;font-weight:bold;color:#ff0000;transform:translate(-50%,-50%) scale(0.78,1.0);font-family:'Liberation Sans', sans-serif;">13</div>
<div class="t" style="left:661.3px;top:445.0px;font-size:16.5px;font-weight:bold;color:#000000;transform:translate(-50%,-50%) scale(0.88,1.0);font-family:'Liberation Sans', sans-serif;">1</div>
<div class="t" style="left:618.1px;top:464.7px;font-size:17.2px;font-weight:normal;color:#000;transform:translate(-50%,-50%) scale(0.98,1.0);font-family:'Liberation Sans', sans-serif;-webkit-text-stroke:0.35px #000;">10/12</div>
<div class="t" style="left:618.1px;top:485.6px;font-size:18px;font-weight:normal;color:#000;transform:translate(-50%,-50%) scale(1.02,1.0);font-family:'Liberation Sans', sans-serif;-webkit-text-stroke:0.2px #000;">J-1</div>
<div class="t" style="left:618.1px;top:506.4px;font-size:16.2px;font-weight:normal;color:#000;transform:translate(-50%,-50%) scale(0.95,1.0);font-family:'Liberation Sans', sans-serif;-webkit-text-stroke:0.35px #000;">9:00</div>
<div class="t" style="left:781.8px;top:445.0px;font-size:16.5px;font-weight:bold;color:#000000;transform:translate(-50%,-50%) scale(0.88,1.0);font-family:'Liberation Sans', sans-serif;">1</div>
<div class="t" style="left:855.0px;top:445.0px;font-size:16.5px;font-weight:bold;color:#ff0000;transform:translate(-50%,-50%) scale(0.88,1.0);font-family:'Liberation Sans', sans-serif;">3</div>
<div class="t" style="left:811.7px;top:464.7px;font-size:17.2px;font-weight:normal;color:#000;transform:translate(-50%,-50%) scale(0.98,1.0);font-family:'Liberation Sans', sans-serif;-webkit-text-stroke:0.35px #000;">10/12</div>
<div class="t" style="left:811.7px;top:485.6px;font-size:18px;font-weight:normal;color:#000;transform:translate(-50%,-50%) scale(1.02,1.0);font-family:'Liberation Sans', sans-serif;-webkit-text-stroke:0.2px #000;">J-2</div>
<div class="t" style="left:811.7px;top:506.4px;font-size:16.2px;font-weight:normal;color:#000;transform:translate(-50%,-50%) scale(0.95,1.0);font-family:'Liberation Sans', sans-serif;-webkit-text-stroke:0.35px #000;">11:30</div>
<div class="t" style="left:962.5px;top:445.0px;font-size:16.5px;font-weight:bold;color:#ff0000;transform:translate(-50%,-50%) scale(0.88,1.0);font-family:'Liberation Sans', sans-serif;">7</div>
<div class="t" style="left:1049.0px;top:445.0px;font-size:16.5px;font-weight:bold;color:#000000;transform:translate(-50%,-50%) scale(0.88,1.0);font-family:'Liberation Sans', sans-serif;">0</div>
<div class="t" style="left:1005.4px;top:464.7px;font-size:17.2px;font-weight:normal;color:#000;transform:translate(-50%,-50%) scale(0.98,1.0);font-family:'Liberation Sans', sans-serif;-webkit-text-stroke:0.35px #000;">10/13</div>
<div class="t" style="left:1005.4px;top:485.6px;font-size:18px;font-weight:normal;color:#000;transform:translate(-50%,-50%) scale(1.02,1.0);font-family:'Liberation Sans', sans-serif;-webkit-text-stroke:0.2px #000;">C-1</div>
<div class="t" style="left:1005.4px;top:506.4px;font-size:16.2px;font-weight:normal;color:#000;transform:translate(-50%,-50%) scale(0.95,1.0);font-family:'Liberation Sans', sans-serif;-webkit-text-stroke:0.35px #000;">9:00</div>
<div class="t" style="left:1156.2px;top:445.0px;font-size:16.5px;font-weight:bold;color:#000000;transform:translate(-50%,-50%) scale(0.88,1.0);font-family:'Liberation Sans', sans-serif;">4</div>
<div class="t" style="left:1242.0px;top:445.0px;font-size:16.5px;font-weight:bold;color:#ff0000;transform:translate(-50%,-50%) scale(0.88,1.0);font-family:'Liberation Sans', sans-serif;">6</div>
<div class="t" style="left:1199.1px;top:464.7px;font-size:17.2px;font-weight:normal;color:#000;transform:translate(-50%,-50%) scale(0.98,1.0);font-family:'Liberation Sans', sans-serif;-webkit-text-stroke:0.35px #000;">10/13</div>
<div class="t" style="left:1199.1px;top:485.6px;font-size:18px;font-weight:normal;color:#000;transform:translate(-50%,-50%) scale(1.02,1.0);font-family:'Liberation Sans', sans-serif;-webkit-text-stroke:0.2px #000;">C- 2</div>
<div class="t" style="left:1199.1px;top:506.4px;font-size:16.2px;font-weight:normal;color:#000;transform:translate(-50%,-50%) scale(0.95,1.0);font-family:'Liberation Sans', sans-serif;-webkit-text-stroke:0.35px #000;">11:30</div>
<div class="t" style="left:1349.7px;top:445.0px;font-size:16.5px;font-weight:bold;color:#ff0000;transform:translate(-50%,-50%) scale(0.88,1.0);font-family:'Liberation Sans', sans-serif;">3</div>
<div class="t" style="left:1434.8px;top:445.0px;font-size:16.5px;font-weight:bold;color:#000000;transform:translate(-50%,-50%) scale(0.88,1.0);font-family:'Liberation Sans', sans-serif;">1</div>
<div class="t" style="left:1392.9px;top:464.7px;font-size:17.2px;font-weight:normal;color:#000;transform:translate(-50%,-50%) scale(0.98,1.0);font-family:'Liberation Sans', sans-serif;-webkit-text-stroke:0.35px #000;">10/12</div>
<div class="t" style="left:1392.9px;top:485.6px;font-size:18px;font-weight:normal;color:#000;transform:translate(-50%,-50%) scale(1.02,1.0);font-family:'Liberation Sans', sans-serif;-webkit-text-stroke:0.2px #000;">C-1</div>
<div class="t" style="left:1392.9px;top:506.4px;font-size:16.2px;font-weight:normal;color:#000;transform:translate(-50%,-50%) scale(0.95,1.0);font-family:'Liberation Sans', sans-serif;-webkit-text-stroke:0.35px #000;">9:00</div>
<div class="t" style="left:1556.4px;top:445.0px;font-size:16.5px;font-weight:bold;color:#000000;transform:translate(-50%,-50%) scale(0.88,1.0);font-family:'Liberation Sans', sans-serif;">2</div>
<div class="t" style="left:1629.7px;top:445.0px;font-size:16.5px;font-weight:bold;color:#ff0000;transform:translate(-50%,-50%) scale(0.88,1.0);font-family:'Liberation Sans', sans-serif;">4</div>
<div class="t" style="left:1586.1px;top:464.7px;font-size:17.2px;font-weight:normal;color:#000;transform:translate(-50%,-50%) scale(0.98,1.0);font-family:'Liberation Sans', sans-serif;-webkit-text-stroke:0.35px #000;">10/12</div>
<div class="t" style="left:1586.1px;top:485.6px;font-size:18px;font-weight:normal;color:#000;transform:translate(-50%,-50%) scale(1.02,1.0);font-family:'Liberation Sans', sans-serif;-webkit-text-stroke:0.2px #000;">C- 2</div>
<div class="t" style="left:1586.1px;top:506.4px;font-size:16.2px;font-weight:normal;color:#000;transform:translate(-50%,-50%) scale(0.95,1.0);font-family:'Liberation Sans', sans-serif;-webkit-text-stroke:0.35px #000;">11:30</div>
<div class="t" style="left:234.7px;top:382.0px;font-size:16.5px;font-weight:bold;color:#ff0000;transform:translate(-50%,-50%) scale(0.88,1.0);font-family:'Liberation Sans', sans-serif;">8</div>
<div class="t" style="left:417.0px;top:382.0px;font-size:16.5px;font-weight:bold;color:#000000;transform:translate(-50%,-50%) scale(0.88,1.0);font-family:'Liberation Sans', sans-serif;">0</div>
<div class="t" style="left:326.4px;top:403.6px;font-size:17.2px;font-weight:normal;color:#000;transform:translate(-50%,-50%) scale(0.98,1.0);font-family:'Liberation Sans', sans-serif;-webkit-text-stroke:0.35px #000;">10/13</div>
<div class="t" style="left:326.4px;top:423.3px;font-size:18px;font-weight:normal;color:#000;transform:translate(-50%,-50%) scale(1.02,1.0);font-family:'Liberation Sans', sans-serif;-webkit-text-stroke:0.2px #000;">K-3</div>
<div class="t" style="left:326.4px;top:445.0px;font-size:16.2px;font-weight:normal;color:#000;transform:translate(-50%,-50%) scale(0.95,1.0);font-family:'Liberation Sans', sans-serif;-webkit-text-stroke:0.35px #000;">14:00</div>
<div class="t" style="left:623.5px;top:382.0px;font-size:16.5px;font-weight:bold;color:#ff0000;transform:translate(-50%,-50%) scale(0.88,1.0);font-family:'Liberation Sans', sans-serif;">9</div>
<div class="t" style="left:806.4px;top:382.0px;font-size:16.5px;font-weight:bold;color:#000000;transform:translate(-50%,-50%) scale(0.88,1.0);font-family:'Liberation Sans', sans-serif;">4</div>
<div class="t" style="left:714.9px;top:403.6px;font-size:17.2px;font-weight:normal;color:#000;transform:translate(-50%,-50%) scale(0.98,1.0);font-family:'Liberation Sans', sans-serif;-webkit-text-stroke:0.35px #000;">10/12</div>
<div class="t" style="left:714.9px;top:423.3px;font-size:18px;font-weight:normal;color:#000;transform:translate(-50%,-50%) scale(1.02,1.0);font-family:'Liberation Sans', sans-serif;-webkit-text-stroke:0.2px #000;">J-3</div>
<div class="t" style="left:714.9px;top:445.0px;font-size:16.2px;font-weight:normal;color:#000;transform:translate(-50%,-50%) scale(0.95,1.0);font-family:'Liberation Sans', sans-serif;-webkit-text-stroke:0.35px #000;">14:00</div>
<div class="t" style="left:1011.1px;top:382.0px;font-size:16.5px;font-weight:bold;color:#ff0000;transform:translate(-50%,-50%) scale(0.88,1.0);font-family:'Liberation Sans', sans-serif;">6</div>
<div class="t" style="left:1193.5px;top:382.0px;font-size:16.5px;font-weight:bold;color:#000000;transform:translate(-50%,-50%) scale(0.88,1.0);font-family:'Liberation Sans', sans-serif;">5</div>
<div class="t" style="left:1102.2px;top:403.6px;font-size:17.2px;font-weight:normal;color:#000;transform:translate(-50%,-50%) scale(0.98,1.0);font-family:'Liberation Sans', sans-serif;-webkit-text-stroke:0.35px #000;">10/13</div>
<div class="t" style="left:1102.2px;top:423.3px;font-size:18px;font-weight:normal;color:#000;transform:translate(-50%,-50%) scale(1.02,1.0);font-family:'Liberation Sans', sans-serif;-webkit-text-stroke:0.2px #000;">C-3</div>
<div class="t" style="left:1102.2px;top:445.0px;font-size:16.2px;font-weight:normal;color:#000;transform:translate(-50%,-50%) scale(0.95,1.0);font-family:'Liberation Sans', sans-serif;-webkit-text-stroke:0.35px #000;">14:00</div>
<div class="t" style="left:1398.1px;top:382.0px;font-size:16.5px;font-weight:bold;color:#000000;transform:translate(-50%,-50%) scale(0.88,1.0);font-family:'Liberation Sans', sans-serif;">3</div>
<div class="t" style="left:1580.8px;top:382.0px;font-size:16.5px;font-weight:bold;color:#ff0000;transform:translate(-50%,-50%) scale(0.88,1.0);font-family:'Liberation Sans', sans-serif;">7</div>
<div class="t" style="left:1489.6px;top:403.6px;font-size:17.2px;font-weight:normal;color:#000;transform:translate(-50%,-50%) scale(0.98,1.0);font-family:'Liberation Sans', sans-serif;-webkit-text-stroke:0.35px #000;">10/12</div>
<div class="t" style="left:1489.6px;top:423.3px;font-size:18px;font-weight:normal;color:#000;transform:translate(-50%,-50%) scale(1.02,1.0);font-family:'Liberation Sans', sans-serif;-webkit-text-stroke:0.2px #000;">C-3</div>
<div class="t" style="left:1489.6px;top:445.0px;font-size:16.2px;font-weight:normal;color:#000;transform:translate(-50%,-50%) scale(0.95,1.0);font-family:'Liberation Sans', sans-serif;-webkit-text-stroke:0.35px #000;">14:00</div>
<div class="t" style="left:344.6px;top:276.4px;font-size:16.5px;font-weight:bold;color:#ff0000;transform:translate(-50%,-50%) scale(0.8,1.0);font-family:'Liberation Sans', sans-serif;">5</div>
<div class="t" style="left:709.7px;top:276.4px;font-size:16.5px;font-weight:bold;color:#000;transform:translate(-50%,-50%) scale(0.8,1.0);font-family:'Liberation Sans', sans-serif;">2</div>
<div class="t" style="left:519.9px;top:298.2px;font-size:17.5px;font-weight:normal;color:#000;transform:translate(-50%,-50%) scale(1.02,1.0);font-family:'Liberation Sans', sans-serif;-webkit-text-stroke:0.35px #000;">11/23</div>
<div class="t" style="left:519.9px;top:318.1px;font-size:16.5px;font-weight:normal;color:#000;transform:translate(-50%,-50%) scale(0.86,1.0);font-family:'Liberation Sans', sans-serif;-webkit-text-stroke:0.35px #000;">G&#8211;1</div>
<div class="t" style="left:519.9px;top:339.0px;font-size:16.5px;font-weight:normal;color:#000;transform:translate(-50%,-50%) scale(0.9,1.0);font-family:'Liberation Sans', sans-serif;-webkit-text-stroke:0.35px #000;">10:00</div>
<div class="t" style="left:1107.2px;top:276.4px;font-size:16.5px;font-weight:bold;color:#ff0000;transform:translate(-50%,-50%) scale(0.8,1.0);font-family:'Liberation Sans', sans-serif;">7</div>
<div class="t" style="left:1484.4px;top:276.4px;font-size:16.5px;font-weight:bold;color:#000;transform:translate(-50%,-50%) scale(0.8,1.0);font-family:'Liberation Sans', sans-serif;">0</div>
<div class="t" style="left:1296.0px;top:298.2px;font-size:17.5px;font-weight:normal;color:#000;transform:translate(-50%,-50%) scale(1.02,1.0);font-family:'Liberation Sans', sans-serif;-webkit-text-stroke:0.35px #000;">11/23</div>
<div class="t" style="left:1296.0px;top:318.1px;font-size:16.5px;font-weight:normal;color:#000;transform:translate(-50%,-50%) scale(0.86,1.0);font-family:'Liberation Sans', sans-serif;-webkit-text-stroke:0.35px #000;">G&#8211;2</div>
<div class="t" style="left:1296.1px;top:338.8px;font-size:16.5px;font-weight:bold;color:#000;transform:translate(-50%,-50%);font-family:'Liberation Sans', sans-serif;">不戦勝</div>
<div class="t" style="left:538.1px;top:214.2px;font-size:16.5px;font-weight:bold;color:#ff0000;transform:translate(-50%,-50%) scale(0.8,1.0);font-family:'Liberation Sans', sans-serif;">7</div>
<div class="t" style="left:1290.4px;top:214.2px;font-size:16.5px;font-weight:bold;color:#000;transform:translate(-50%,-50%) scale(0.8,1.0);font-family:'Liberation Sans', sans-serif;">4</div>
<div class="t" style="left:884.3px;top:236.0px;font-size:17.5px;font-weight:normal;color:#000;transform:translate(-50%,-50%);font-family:'Liberation Sans', sans-serif;-webkit-text-stroke:0.35px #000;">11/23</div>
<div class="t" style="left:884.3px;top:256.5px;font-size:15.2px;font-weight:normal;color:#000;transform:translate(-50%,-50%);font-family:'Liberation Sans', sans-serif;-webkit-text-stroke:0.35px #000;">G&#8211;3</div>
<div class="t" style="left:884.3px;top:276.2px;font-size:16.2px;font-weight:normal;color:#000;transform:translate(-50%,-50%) scale(0.93,1.0);font-family:'Liberation Sans', sans-serif;-webkit-text-stroke:0.35px #000;">13:00</div>
<div style="left:132.0px;top:721.0px;width:1551.5px;height:1.0px;background:#333"></div>
<div style="left:132.0px;top:756.0px;width:1551.5px;height:1.0px;background:#383838"></div>
<div style="left:132.0px;top:1152.0px;width:1551.5px;height:1.0px;background:#7a7a7a"></div>
<div style="left:132.0px;top:1213.0px;width:1552.5px;height:3.0px;background:#222"></div>
<div style="left:132.0px;top:721.0px;width:1.0px;height:494.0px;background:#111"></div>
<div style="left:1682.0px;top:721.0px;width:2.0px;height:495.0px;background:#222"></div>
<div style="left:181.0px;top:721.0px;width:1.0px;height:494.0px;background:#4a4a4a"></div>
<div style="left:229.0px;top:721.0px;width:1.0px;height:494.0px;background:#4a4a4a"></div>
<div style="left:278.0px;top:721.0px;width:1.0px;height:494.0px;background:#4a4a4a"></div>
<div style="left:326.0px;top:721.0px;width:1.0px;height:494.0px;background:#4a4a4a"></div>
<div style="left:375.0px;top:721.0px;width:1.0px;height:494.0px;background:#4a4a4a"></div>
<div style="left:423.0px;top:721.0px;width:1.0px;height:494.0px;background:#4a4a4a"></div>
<div style="left:472.0px;top:721.0px;width:1.0px;height:494.0px;background:#4a4a4a"></div>
<div style="left:520.0px;top:721.0px;width:1.0px;height:494.0px;background:#4a4a4a"></div>
<div style="left:569.0px;top:721.0px;width:1.0px;height:494.0px;background:#4a4a4a"></div>
<div style="left:617.0px;top:721.0px;width:1.0px;height:494.0px;background:#4a4a4a"></div>
<div style="left:665.0px;top:721.0px;width:1.0px;height:494.0px;background:#4a4a4a"></div>
<div style="left:714.0px;top:721.0px;width:1.0px;height:494.0px;background:#4a4a4a"></div>
<div style="left:762.0px;top:721.0px;width:1.0px;height:494.0px;background:#4a4a4a"></div>
<div style="left:811.0px;top:721.0px;width:1.0px;height:494.0px;background:#4a4a4a"></div>
<div style="left:859.0px;top:721.0px;width:1.0px;height:494.0px;background:#4a4a4a"></div>
<div style="left:908.0px;top:721.0px;width:1.0px;height:494.0px;background:#4a4a4a"></div>
<div style="left:956.0px;top:721.0px;width:1.0px;height:494.0px;background:#4a4a4a"></div>
<div style="left:1005.0px;top:721.0px;width:1.0px;height:494.0px;background:#4a4a4a"></div>
<div style="left:1053.0px;top:721.0px;width:1.0px;height:494.0px;background:#4a4a4a"></div>
<div style="left:1102.0px;top:721.0px;width:1.0px;height:494.0px;background:#4a4a4a"></div>
<div style="left:1150.0px;top:721.0px;width:1.0px;height:494.0px;background:#4a4a4a"></div>
<div style="left:1199.0px;top:721.0px;width:1.0px;height:494.0px;background:#4a4a4a"></div>
<div style="left:1247.0px;top:721.0px;width:1.0px;height:494.0px;background:#4a4a4a"></div>
<div style="left:1296.0px;top:721.0px;width:1.0px;height:494.0px;background:#4a4a4a"></div>
<div style="left:1344.0px;top:721.0px;width:1.0px;height:494.0px;background:#4a4a4a"></div>
<div style="left:1392.0px;top:721.0px;width:1.0px;height:494.0px;background:#4a4a4a"></div>
<div style="left:1441.0px;top:721.0px;width:1.0px;height:494.0px;background:#4a4a4a"></div>
<div style="left:1489.0px;top:721.0px;width:1.0px;height:494.0px;background:#4a4a4a"></div>
<div style="left:1538.0px;top:721.0px;width:1.0px;height:494.0px;background:#4a4a4a"></div>
<div style="left:1586.0px;top:721.0px;width:1.0px;height:494.0px;background:#4a4a4a"></div>
<div style="left:1635.0px;top:721.0px;width:1.0px;height:494.0px;background:#4a4a4a"></div>
<div class="t" style="left:157.2px;top:739.3px;font-size:24px;font-weight:normal;color:#000;transform:translate(-50%,-50%) scale(0.93,1.0);font-family:'Liberation Sans', sans-serif;">1</div>
<div class="t" style="left:205.7px;top:739.3px;font-size:24px;font-weight:normal;color:#000;transform:translate(-50%,-50%) scale(0.93,1.0);font-family:'Liberation Sans', sans-serif;">2</div>
<div class="t" style="left:254.2px;top:739.3px;font-size:24px;font-weight:normal;color:#000;transform:translate(-50%,-50%) scale(0.93,1.0);font-family:'Liberation Sans', sans-serif;">3</div>
<div class="t" style="left:302.6px;top:739.3px;font-size:24px;font-weight:normal;color:#000;transform:translate(-50%,-50%) scale(0.93,1.0);font-family:'Liberation Sans', sans-serif;">4</div>
<div class="t" style="left:351.1px;top:739.3px;font-size:24px;font-weight:normal;color:#000;transform:translate(-50%,-50%) scale(0.93,1.0);font-family:'Liberation Sans', sans-serif;">5</div>
<div class="t" style="left:399.6px;top:739.3px;font-size:24px;font-weight:normal;color:#000;transform:translate(-50%,-50%) scale(0.93,1.0);font-family:'Liberation Sans', sans-serif;">6</div>
<div class="t" style="left:448.0px;top:739.3px;font-size:24px;font-weight:normal;color:#000;transform:translate(-50%,-50%) scale(0.93,1.0);font-family:'Liberation Sans', sans-serif;">7</div>
<div class="t" style="left:496.5px;top:739.3px;font-size:24px;font-weight:normal;color:#000;transform:translate(-50%,-50%) scale(0.93,1.0);font-family:'Liberation Sans', sans-serif;">8</div>
<div class="t" style="left:545.0px;top:739.3px;font-size:24px;font-weight:normal;color:#000;transform:translate(-50%,-50%) scale(0.93,1.0);font-family:'Liberation Sans', sans-serif;">9</div>
<div class="t" style="left:593.5px;top:739.3px;font-size:24px;font-weight:normal;color:#000;transform:translate(-50%,-50%) scale(0.93,1.0);font-family:'Liberation Sans', sans-serif;">10</div>
<div class="t" style="left:641.9px;top:739.3px;font-size:24px;font-weight:normal;color:#000;transform:translate(-50%,-50%) scale(0.93,1.0);font-family:'Liberation Sans', sans-serif;">11</div>
<div class="t" style="left:690.4px;top:739.3px;font-size:24px;font-weight:normal;color:#000;transform:translate(-50%,-50%) scale(0.93,1.0);font-family:'Liberation Sans', sans-serif;">12</div>
<div class="t" style="left:738.9px;top:739.3px;font-size:24px;font-weight:normal;color:#000;transform:translate(-50%,-50%) scale(0.93,1.0);font-family:'Liberation Sans', sans-serif;">13</div>
<div class="t" style="left:787.3px;top:739.3px;font-size:24px;font-weight:normal;color:#000;transform:translate(-50%,-50%) scale(0.93,1.0);font-family:'Liberation Sans', sans-serif;">14</div>
<div class="t" style="left:835.8px;top:739.3px;font-size:24px;font-weight:normal;color:#000;transform:translate(-50%,-50%) scale(0.93,1.0);font-family:'Liberation Sans', sans-serif;">15</div>
<div class="t" style="left:884.3px;top:739.3px;font-size:24px;font-weight:normal;color:#000;transform:translate(-50%,-50%) scale(0.93,1.0);font-family:'Liberation Sans', sans-serif;">16</div>
<div class="t" style="left:932.7px;top:739.3px;font-size:24px;font-weight:normal;color:#000;transform:translate(-50%,-50%) scale(0.93,1.0);font-family:'Liberation Sans', sans-serif;">17</div>
<div class="t" style="left:981.2px;top:739.3px;font-size:24px;font-weight:normal;color:#000;transform:translate(-50%,-50%) scale(0.93,1.0);font-family:'Liberation Sans', sans-serif;">18</div>
<div class="t" style="left:1029.7px;top:739.3px;font-size:24px;font-weight:normal;color:#000;transform:translate(-50%,-50%) scale(0.93,1.0);font-family:'Liberation Sans', sans-serif;">19</div>
<div class="t" style="left:1078.1px;top:739.3px;font-size:24px;font-weight:normal;color:#000;transform:translate(-50%,-50%) scale(0.93,1.0);font-family:'Liberation Sans', sans-serif;">20</div>
<div class="t" style="left:1126.6px;top:739.3px;font-size:24px;font-weight:normal;color:#000;transform:translate(-50%,-50%) scale(0.93,1.0);font-family:'Liberation Sans', sans-serif;">21</div>
<div class="t" style="left:1175.1px;top:739.3px;font-size:24px;font-weight:normal;color:#000;transform:translate(-50%,-50%) scale(0.93,1.0);font-family:'Liberation Sans', sans-serif;">22</div>
<div class="t" style="left:1223.5px;top:739.3px;font-size:24px;font-weight:normal;color:#000;transform:translate(-50%,-50%) scale(0.93,1.0);font-family:'Liberation Sans', sans-serif;">23</div>
<div class="t" style="left:1272.0px;top:739.3px;font-size:24px;font-weight:normal;color:#000;transform:translate(-50%,-50%) scale(0.93,1.0);font-family:'Liberation Sans', sans-serif;">24</div>
<div class="t" style="left:1320.5px;top:739.3px;font-size:24px;font-weight:normal;color:#000;transform:translate(-50%,-50%) scale(0.93,1.0);font-family:'Liberation Sans', sans-serif;">25</div>
<div class="t" style="left:1369.0px;top:739.3px;font-size:24px;font-weight:normal;color:#000;transform:translate(-50%,-50%) scale(0.93,1.0);font-family:'Liberation Sans', sans-serif;">26</div>
<div class="t" style="left:1417.4px;top:739.3px;font-size:24px;font-weight:normal;color:#000;transform:translate(-50%,-50%) scale(0.93,1.0);font-family:'Liberation Sans', sans-serif;">27</div>
<div class="t" style="left:1465.9px;top:739.3px;font-size:24px;font-weight:normal;color:#000;transform:translate(-50%,-50%) scale(0.93,1.0);font-family:'Liberation Sans', sans-serif;">28</div>
<div class="t" style="left:1514.4px;top:739.3px;font-size:24px;font-weight:normal;color:#000;transform:translate(-50%,-50%) scale(0.93,1.0);font-family:'Liberation Sans', sans-serif;">29</div>
<div class="t" style="left:1562.8px;top:739.3px;font-size:24px;font-weight:normal;color:#000;transform:translate(-50%,-50%) scale(0.93,1.0);font-family:'Liberation Sans', sans-serif;">30</div>
<div class="t" style="left:1611.3px;top:739.3px;font-size:24px;font-weight:normal;color:#000;transform:translate(-50%,-50%) scale(0.93,1.0);font-family:'Liberation Sans', sans-serif;">31</div>
<div class="t" style="left:1659.8px;top:739.3px;font-size:24px;font-weight:normal;color:#000;transform:translate(-50%,-50%) scale(0.93,1.0);font-family:'Liberation Sans', sans-serif;">32</div>
<div class="t" style="left:143.5px;top:766.2px;font-size:16px;font-weight:bold;color:#000;transform:translate(-50%,-50%);font-family:'Liberation Sans', sans-serif;-webkit-text-stroke:0.3px #000;">大</div>
<div class="t" style="left:143.5px;top:828.7px;font-size:16px;font-weight:bold;color:#000;transform:translate(-50%,-50%);font-family:'Liberation Sans', sans-serif;-webkit-text-stroke:0.3px #000;">阪</div>
<div class="t" style="left:143.5px;top:891.1px;font-size:16px;font-weight:bold;color:#000;transform:translate(-50%,-50%);font-family:'Liberation Sans', sans-serif;-webkit-text-stroke:0.3px #000;">舞</div>
<div class="t" style="left:143.5px;top:953.6px;font-size:16px;font-weight:bold;color:#000;transform:translate(-50%,-50%);font-family:'Liberation Sans', sans-serif;-webkit-text-stroke:0.3px #000;">洲</div>
<div class="t" style="left:143.5px;top:1016.1px;font-size:16px;font-weight:bold;color:#000;transform:translate(-50%,-50%);font-family:'Liberation Sans', sans-serif;-webkit-text-stroke:0.3px #000;">ヤ</div>
<div class="t" style="left:143.5px;top:1078.5px;font-size:16px;font-weight:bold;color:#000;transform:translate(-50%,-50%);font-family:'Liberation Sans', sans-serif;-webkit-text-stroke:0.3px #000;">ン</div>
<div class="t" style="left:143.5px;top:1141.0px;font-size:16px;font-weight:bold;color:#000;transform:translate(-50%,-50%);font-family:'Liberation Sans', sans-serif;-webkit-text-stroke:0.3px #000;">グ</div>
<div class="t" style="left:192.0px;top:766.2px;font-size:16px;font-weight:bold;color:#000;transform:translate(-50%,-50%);font-family:'Liberation Sans', sans-serif;-webkit-text-stroke:0.3px #000;">新</div>
<div class="t" style="left:192.0px;top:803.7px;font-size:16px;font-weight:bold;color:#000;transform:translate(-50%,-50%);font-family:'Liberation Sans', sans-serif;-webkit-text-stroke:0.3px #000;">居</div>
<div class="t" style="left:192.0px;top:841.2px;font-size:16px;font-weight:bold;color:#000;transform:translate(-50%,-50%);font-family:'Liberation Sans', sans-serif;-webkit-text-stroke:0.3px #000;">浜</div>
<div class="t" style="left:192.0px;top:878.6px;font-size:16px;font-weight:bold;color:#000;transform:translate(-50%,-50%);font-family:'Liberation Sans', sans-serif;-webkit-text-stroke:0.3px #000;">ヤ</div>
<div class="t" style="left:192.0px;top:916.1px;font-size:16px;font-weight:bold;color:#000;transform:translate(-50%,-50%);font-family:'Liberation Sans', sans-serif;-webkit-text-stroke:0.3px #000;">ン</div>
<div class="t" style="left:192.0px;top:953.6px;font-size:16px;font-weight:bold;color:#000;transform:translate(-50%,-50%);font-family:'Liberation Sans', sans-serif;-webkit-text-stroke:0.3px #000;">グ</div>
<div class="t" style="left:192.0px;top:991.1px;font-size:16px;font-weight:bold;color:#000;transform:translate(-50%,-50%);font-family:'Liberation Sans', sans-serif;-webkit-text-stroke:0.3px #000;">ス</div>
<div class="t" style="left:192.0px;top:1028.6px;font-size:16px;font-weight:bold;color:#000;transform:translate(-50%,-50%);font-family:'Liberation Sans', sans-serif;-webkit-text-stroke:0.3px #000;">ワ</div>
<div class="t" style="left:192.0px;top:1066.0px;font-size:16px;font-weight:bold;color:#000;transform:translate(-50%,-50%);font-family:'Liberation Sans', sans-serif;-webkit-text-stroke:0.3px #000;">ロ</div>
<div class="t" style="left:192.0px;top:1103.5px;font-size:16px;font-weight:bold;color:#000;transform:translate(-50%,-50%);font-family:'Liberation Sans', sans-serif;-webkit-text-stroke:0.3px #000;">ー</div>
<div class="t" style="left:192.0px;top:1141.0px;font-size:16px;font-weight:bold;color:#000;transform:translate(-50%,-50%);font-family:'Liberation Sans', sans-serif;-webkit-text-stroke:0.3px #000;">ズ</div>
<div class="t" style="left:240.4px;top:766.2px;font-size:16px;font-weight:bold;color:#000;transform:translate(-50%,-50%);font-family:'Liberation Sans', sans-serif;-webkit-text-stroke:0.3px #000;">オ</div>
<div class="t" style="left:240.4px;top:819.7px;font-size:16px;font-weight:bold;color:#000;transform:translate(-50%,-50%);font-family:'Liberation Sans', sans-serif;-webkit-text-stroke:0.3px #000;">ー</div>
<div class="t" style="left:240.4px;top:873.3px;font-size:16px;font-weight:bold;color:#000;transform:translate(-50%,-50%);font-family:'Liberation Sans', sans-serif;-webkit-text-stroke:0.3px #000;">ル</div>
<div class="t" style="left:240.4px;top:926.8px;font-size:16px;font-weight:bold;color:#000;transform:translate(-50%,-50%);font-family:'Liberation Sans', sans-serif;-webkit-text-stroke:0.3px #000;">山</div>
<div class="t" style="left:240.4px;top:980.4px;font-size:16px;font-weight:bold;color:#000;transform:translate(-50%,-50%);font-family:'Liberation Sans', sans-serif;-webkit-text-stroke:0.3px #000;">城</div>
<div class="t" style="left:240.4px;top:1033.9px;font-size:16px;font-weight:bold;color:#000;transform:translate(-50%,-50%);font-family:'Liberation Sans', sans-serif;-webkit-text-stroke:0.3px #000;">ヤ</div>
<div class="t" style="left:240.4px;top:1087.5px;font-size:16px;font-weight:bold;color:#000;transform:translate(-50%,-50%);font-family:'Liberation Sans', sans-serif;-webkit-text-stroke:0.3px #000;">ン</div>
<div class="t" style="left:240.4px;top:1141.0px;font-size:16px;font-weight:bold;color:#000;transform:translate(-50%,-50%);font-family:'Liberation Sans', sans-serif;-webkit-text-stroke:0.3px #000;">グ</div>
<div class="t" style="left:288.9px;top:766.2px;font-size:16px;font-weight:bold;color:#000;transform:translate(-50%,-50%);font-family:'Liberation Sans', sans-serif;-webkit-text-stroke:0.3px #000;">美</div>
<div class="t" style="left:288.9px;top:841.2px;font-size:16px;font-weight:bold;color:#000;transform:translate(-50%,-50%);font-family:'Liberation Sans', sans-serif;-webkit-text-stroke:0.3px #000;">蹴</div>
<div class="t" style="left:288.9px;top:916.1px;font-size:16px;font-weight:bold;color:#000;transform:translate(-50%,-50%);font-family:'Liberation Sans', sans-serif;-webkit-text-stroke:0.3px #000;">館</div>
<div class="t" style="left:288.9px;top:991.1px;font-size:16px;font-weight:bold;color:#000;transform:translate(-50%,-50%);font-family:'Liberation Sans', sans-serif;-webkit-text-stroke:0.3px #000;">ヤ</div>
<div class="t" style="left:288.9px;top:1066.0px;font-size:16px;font-weight:bold;color:#000;transform:translate(-50%,-50%);font-family:'Liberation Sans', sans-serif;-webkit-text-stroke:0.3px #000;">ン</div>
<div class="t" style="left:288.9px;top:1141.0px;font-size:16px;font-weight:bold;color:#000;transform:translate(-50%,-50%);font-family:'Liberation Sans', sans-serif;-webkit-text-stroke:0.3px #000;">グ</div>
<div class="t" style="left:337.4px;top:766.2px;font-size:16px;font-weight:bold;color:#000;transform:translate(-50%,-50%);font-family:'Liberation Sans', sans-serif;-webkit-text-stroke:0.3px #000;">大</div>
<div class="t" style="left:337.4px;top:841.2px;font-size:16px;font-weight:bold;color:#000;transform:translate(-50%,-50%);font-family:'Liberation Sans', sans-serif;-webkit-text-stroke:0.3px #000;">阪</div>
<div class="t" style="left:337.4px;top:916.1px;font-size:16px;font-weight:bold;color:#000;transform:translate(-50%,-50%);font-family:'Liberation Sans', sans-serif;-webkit-text-stroke:0.3px #000;">暇</div>
<div class="t" style="left:337.4px;top:991.1px;font-size:16px;font-weight:bold;color:#000;transform:translate(-50%,-50%);font-family:'Liberation Sans', sans-serif;-webkit-text-stroke:0.3px #000;">ヤ</div>
<div class="t" style="left:337.4px;top:1066.0px;font-size:16px;font-weight:bold;color:#000;transform:translate(-50%,-50%);font-family:'Liberation Sans', sans-serif;-webkit-text-stroke:0.3px #000;">ン</div>
<div class="t" style="left:337.4px;top:1141.0px;font-size:16px;font-weight:bold;color:#000;transform:translate(-50%,-50%);font-family:'Liberation Sans', sans-serif;-webkit-text-stroke:0.3px #000;">グ</div>
<div class="t" style="left:385.8px;top:766.2px;font-size:16px;font-weight:bold;color:#000;transform:translate(-50%,-50%);font-family:'Liberation Sans', sans-serif;-webkit-text-stroke:0.3px #000;">京</div>
<div class="t" style="left:385.8px;top:813.1px;font-size:16px;font-weight:bold;color:#000;transform:translate(-50%,-50%);font-family:'Liberation Sans', sans-serif;-webkit-text-stroke:0.3px #000;">都</div>
<div class="t" style="left:385.8px;top:859.9px;font-size:16px;font-weight:bold;color:#000;transform:translate(-50%,-50%);font-family:'Liberation Sans', sans-serif;-webkit-text-stroke:0.3px #000;">ピ</div>
<div class="t" style="left:385.8px;top:906.8px;font-size:16px;font-weight:bold;color:#000;transform:translate(-50%,-50%);font-family:'Liberation Sans', sans-serif;-webkit-text-stroke:0.3px #000;">ュ</div>
<div class="t" style="left:385.8px;top:953.6px;font-size:16px;font-weight:bold;color:#000;transform:translate(-50%,-50%);font-family:'Liberation Sans', sans-serif;-webkit-text-stroke:0.3px #000;">ー</div>
<div class="t" style="left:385.8px;top:1000.5px;font-size:16px;font-weight:bold;color:#000;transform:translate(-50%,-50%);font-family:'Liberation Sans', sans-serif;-webkit-text-stroke:0.3px #000;">ル</div>
<div class="t" style="left:385.8px;top:1047.3px;font-size:16px;font-weight:bold;color:#000;transform:translate(-50%,-50%);font-family:'Liberation Sans', sans-serif;-webkit-text-stroke:0.3px #000;">ヤ</div>
<div class="t" style="left:385.8px;top:1094.2px;font-size:16px;font-weight:bold;color:#000;transform:translate(-50%,-50%);font-family:'Liberation Sans', sans-serif;-webkit-text-stroke:0.3px #000;">ン</div>
<div class="t" style="left:385.8px;top:1141.0px;font-size:16px;font-weight:bold;color:#000;transform:translate(-50%,-50%);font-family:'Liberation Sans', sans-serif;-webkit-text-stroke:0.3px #000;">グ</div>
<div class="t" style="left:434.3px;top:766.2px;font-size:16px;font-weight:bold;color:#000;transform:translate(-50%,-50%);font-family:'Liberation Sans', sans-serif;-webkit-text-stroke:0.3px #000;">大</div>
<div class="t" style="left:434.3px;top:828.7px;font-size:16px;font-weight:bold;color:#000;transform:translate(-50%,-50%);font-family:'Liberation Sans', sans-serif;-webkit-text-stroke:0.3px #000;">阪</div>
<div class="t" style="left:434.3px;top:891.1px;font-size:16px;font-weight:bold;color:#000;transform:translate(-50%,-50%);font-family:'Liberation Sans', sans-serif;-webkit-text-stroke:0.3px #000;">狭</div>
<div class="t" style="left:434.3px;top:953.6px;font-size:16px;font-weight:bold;color:#000;transform:translate(-50%,-50%);font-family:'Liberation Sans', sans-serif;-webkit-text-stroke:0.3px #000;">山</div>
<div class="t" style="left:434.3px;top:1016.1px;font-size:16px;font-weight:bold;color:#000;transform:translate(-50%,-50%);font-family:'Liberation Sans', sans-serif;-webkit-text-stroke:0.3px #000;">ヤ</div>
<div class="t" style="left:434.3px;top:1078.5px;font-size:16px;font-weight:bold;color:#000;transform:translate(-50%,-50%);font-family:'Liberation Sans', sans-serif;-webkit-text-stroke:0.3px #000;">ン</div>
<div class="t" style="left:434.3px;top:1141.0px;font-size:16px;font-weight:bold;color:#000;transform:translate(-50%,-50%);font-family:'Liberation Sans', sans-serif;-webkit-text-stroke:0.3px #000;">グ</div>
<div class="t" style="left:482.8px;top:766.2px;font-size:16px;font-weight:bold;color:#000;transform:translate(-50%,-50%);font-family:'Liberation Sans', sans-serif;-webkit-text-stroke:0.3px #000;">愛</div>
<div class="t" style="left:482.8px;top:813.1px;font-size:16px;font-weight:bold;color:#000;transform:translate(-50%,-50%);font-family:'Liberation Sans', sans-serif;-webkit-text-stroke:0.3px #000;">知</div>
<div class="t" style="left:482.8px;top:859.9px;font-size:16px;font-weight:bold;color:#000;transform:translate(-50%,-50%);font-family:'Liberation Sans', sans-serif;-webkit-text-stroke:0.3px #000;">プ</div>
<div class="t" style="left:482.8px;top:906.8px;font-size:16px;font-weight:bold;color:#000;transform:translate(-50%,-50%);font-family:'Liberation Sans', sans-serif;-webkit-text-stroke:0.3px #000;">リ</div>
<div class="t" style="left:482.8px;top:953.6px;font-size:16px;font-weight:bold;color:#000;transform:translate(-50%,-50%);font-family:'Liberation Sans', sans-serif;-webkit-text-stroke:0.3px #000;">ン</div>
<div class="t" style="left:482.8px;top:1000.5px;font-size:16px;font-weight:bold;color:#000;transform:translate(-50%,-50%);font-family:'Liberation Sans', sans-serif;-webkit-text-stroke:0.3px #000;">ス</div>
<div class="t" style="left:482.8px;top:1047.3px;font-size:16px;font-weight:bold;color:#000;transform:translate(-50%,-50%);font-family:'Liberation Sans', sans-serif;-webkit-text-stroke:0.3px #000;">ヤ</div>
<div class="t" style="left:482.8px;top:1094.2px;font-size:16px;font-weight:bold;color:#000;transform:translate(-50%,-50%);font-family:'Liberation Sans', sans-serif;-webkit-text-stroke:0.3px #000;">ン</div>
<div class="t" style="left:482.8px;top:1141.0px;font-size:16px;font-weight:bold;color:#000;transform:translate(-50%,-50%);font-family:'Liberation Sans', sans-serif;-webkit-text-stroke:0.3px #000;">グ</div>
<div class="t" style="left:531.2px;top:766.2px;font-size:16px;font-weight:bold;color:#000;transform:translate(-50%,-50%);font-family:'Liberation Sans', sans-serif;-webkit-text-stroke:0.3px #000;">R</div>
<div class="t" style="left:531.2px;top:819.7px;font-size:16px;font-weight:bold;color:#000;transform:translate(-50%,-50%);font-family:'Liberation Sans', sans-serif;-webkit-text-stroke:0.3px #000;">・</div>
<div class="t" style="left:531.2px;top:873.3px;font-size:16px;font-weight:bold;color:#000;transform:translate(-50%,-50%);font-family:'Liberation Sans', sans-serif;-webkit-text-stroke:0.3px #000;">B</div>
<div class="t" style="left:531.2px;top:926.8px;font-size:16px;font-weight:bold;color:#000;transform:translate(-50%,-50%);font-family:'Liberation Sans', sans-serif;-webkit-text-stroke:0.3px #000;">・</div>
<div class="t" style="left:531.2px;top:980.4px;font-size:16px;font-weight:bold;color:#000;transform:translate(-50%,-50%);font-family:'Liberation Sans', sans-serif;-webkit-text-stroke:0.3px #000;">A</div>
<div class="t" style="left:531.2px;top:1033.9px;font-size:16px;font-weight:bold;color:#000;transform:translate(-50%,-50%);font-family:'Liberation Sans', sans-serif;-webkit-text-stroke:0.3px #000;">ヤ</div>
<div class="t" style="left:531.2px;top:1087.5px;font-size:16px;font-weight:bold;color:#000;transform:translate(-50%,-50%);font-family:'Liberation Sans', sans-serif;-webkit-text-stroke:0.3px #000;">ン</div>
<div class="t" style="left:531.2px;top:1141.0px;font-size:16px;font-weight:bold;color:#000;transform:translate(-50%,-50%);font-family:'Liberation Sans', sans-serif;-webkit-text-stroke:0.3px #000;">グ</div>
<div class="t" style="left:579.7px;top:766.2px;font-size:16px;font-weight:bold;color:#000;transform:translate(-50%,-50%);font-family:'Liberation Sans', sans-serif;-webkit-text-stroke:0.3px #000;">京</div>
<div class="t" style="left:579.7px;top:807.8px;font-size:16px;font-weight:bold;color:#000;transform:translate(-50%,-50%);font-family:'Liberation Sans', sans-serif;-webkit-text-stroke:0.3px #000;">都</div>
<div class="t" style="left:579.7px;top:849.5px;font-size:16px;font-weight:bold;color:#000;transform:translate(-50%,-50%);font-family:'Liberation Sans', sans-serif;-webkit-text-stroke:0.3px #000;">ブ</div>
<div class="t" style="left:579.7px;top:891.1px;font-size:16px;font-weight:bold;color:#000;transform:translate(-50%,-50%);font-family:'Liberation Sans', sans-serif;-webkit-text-stroke:0.3px #000;">ラ</div>
<div class="t" style="left:579.7px;top:932.8px;font-size:16px;font-weight:bold;color:#000;transform:translate(-50%,-50%);font-family:'Liberation Sans', sans-serif;-webkit-text-stroke:0.3px #000;">ッ</div>
<div class="t" style="left:579.7px;top:974.4px;font-size:16px;font-weight:bold;color:#000;transform:translate(-50%,-50%);font-family:'Liberation Sans', sans-serif;-webkit-text-stroke:0.3px #000;">ク</div>
<div class="t" style="left:579.7px;top:1016.1px;font-size:16px;font-weight:bold;color:#000;transform:translate(-50%,-50%);font-family:'Liberation Sans', sans-serif;-webkit-text-stroke:0.3px #000;">ス</div>
<div class="t" style="left:579.7px;top:1057.7px;font-size:16px;font-weight:bold;color:#000;transform:translate(-50%,-50%);font-family:'Liberation Sans', sans-serif;-webkit-text-stroke:0.3px #000;">ヤ</div>
<div class="t" style="left:579.7px;top:1099.4px;font-size:16px;font-weight:bold;color:#000;transform:translate(-50%,-50%);font-family:'Liberation Sans', sans-serif;-webkit-text-stroke:0.3px #000;">ン</div>
<div class="t" style="left:579.7px;top:1141.0px;font-size:16px;font-weight:bold;color:#000;transform:translate(-50%,-50%);font-family:'Liberation Sans', sans-serif;-webkit-text-stroke:0.3px #000;">グ</div>
<div class="t" style="left:628.2px;top:766.2px;font-size:16px;font-weight:bold;color:#000;transform:translate(-50%,-50%);font-family:'Liberation Sans', sans-serif;-webkit-text-stroke:0.3px #000;">枚</div>
<div class="t" style="left:628.2px;top:813.1px;font-size:16px;font-weight:bold;color:#000;transform:translate(-50%,-50%);font-family:'Liberation Sans', sans-serif;-webkit-text-stroke:0.3px #000;">方</div>
<div class="t" style="left:628.2px;top:859.9px;font-size:16px;font-weight:bold;color:#000;transform:translate(-50%,-50%);font-family:'Liberation Sans', sans-serif;-webkit-text-stroke:0.3px #000;">ヤ</div>
<div class="t" style="left:628.2px;top:906.8px;font-size:16px;font-weight:bold;color:#000;transform:translate(-50%,-50%);font-family:'Liberation Sans', sans-serif;-webkit-text-stroke:0.3px #000;">ン</div>
<div class="t" style="left:628.2px;top:953.6px;font-size:16px;font-weight:bold;color:#000;transform:translate(-50%,-50%);font-family:'Liberation Sans', sans-serif;-webkit-text-stroke:0.3px #000;">グ</div>
<div class="t" style="left:628.2px;top:1000.5px;font-size:16px;font-weight:bold;color:#000;transform:translate(-50%,-50%);font-family:'Liberation Sans', sans-serif;-webkit-text-stroke:0.3px #000;">ホ</div>
<div class="t" style="left:628.2px;top:1047.3px;font-size:16px;font-weight:bold;color:#000;transform:translate(-50%,-50%);font-family:'Liberation Sans', sans-serif;-webkit-text-stroke:0.3px #000;">ー</div>
<div class="t" style="left:628.2px;top:1094.2px;font-size:16px;font-weight:bold;color:#000;transform:translate(-50%,-50%);font-family:'Liberation Sans', sans-serif;-webkit-text-stroke:0.3px #000;">ク</div>
<div class="t" style="left:628.2px;top:1141.0px;font-size:16px;font-weight:bold;color:#000;transform:translate(-50%,-50%);font-family:'Liberation Sans', sans-serif;-webkit-text-stroke:0.3px #000;">ス</div>
<div class="t" style="left:676.7px;top:766.2px;font-size:16px;font-weight:bold;color:#000;transform:translate(-50%,-50%);font-family:'Liberation Sans', sans-serif;-webkit-text-stroke:0.3px #000;">兵</div>
<div class="t" style="left:676.7px;top:807.8px;font-size:16px;font-weight:bold;color:#000;transform:translate(-50%,-50%);font-family:'Liberation Sans', sans-serif;-webkit-text-stroke:0.3px #000;">庫</div>
<div class="t" style="left:676.7px;top:849.5px;font-size:16px;font-weight:bold;color:#000;transform:translate(-50%,-50%);font-family:'Liberation Sans', sans-serif;-webkit-text-stroke:0.3px #000;">タ</div>
<div class="t" style="left:676.7px;top:891.1px;font-size:16px;font-weight:bold;color:#000;transform:translate(-50%,-50%);font-family:'Liberation Sans', sans-serif;-webkit-text-stroke:0.3px #000;">イ</div>
<div class="t" style="left:676.7px;top:932.8px;font-size:16px;font-weight:bold;color:#000;transform:translate(-50%,-50%);font-family:'Liberation Sans', sans-serif;-webkit-text-stroke:0.3px #000;">ガ</div>
<div class="t" style="left:676.7px;top:974.4px;font-size:16px;font-weight:bold;color:#000;transform:translate(-50%,-50%);font-family:'Liberation Sans', sans-serif;-webkit-text-stroke:0.3px #000;">ー</div>
<div class="t" style="left:676.7px;top:1016.1px;font-size:16px;font-weight:bold;color:#000;transform:translate(-50%,-50%);font-family:'Liberation Sans', sans-serif;-webkit-text-stroke:0.3px #000;">ス</div>
<div class="t" style="left:676.7px;top:1057.7px;font-size:16px;font-weight:bold;color:#000;transform:translate(-50%,-50%);font-family:'Liberation Sans', sans-serif;-webkit-text-stroke:0.3px #000;">ヤ</div>
<div class="t" style="left:676.7px;top:1099.4px;font-size:16px;font-weight:bold;color:#000;transform:translate(-50%,-50%);font-family:'Liberation Sans', sans-serif;-webkit-text-stroke:0.3px #000;">ン</div>
<div class="t" style="left:676.7px;top:1141.0px;font-size:16px;font-weight:bold;color:#000;transform:translate(-50%,-50%);font-family:'Liberation Sans', sans-serif;-webkit-text-stroke:0.3px #000;">グ</div>
<div class="t" style="left:725.1px;top:766.2px;font-size:16px;font-weight:bold;color:#000;transform:translate(-50%,-50%);font-family:'Liberation Sans', sans-serif;-webkit-text-stroke:0.3px #000;">高</div>
<div class="t" style="left:725.1px;top:797.4px;font-size:16px;font-weight:bold;color:#000;transform:translate(-50%,-50%);font-family:'Liberation Sans', sans-serif;-webkit-text-stroke:0.3px #000;">槻</div>
<div class="t" style="left:725.1px;top:828.7px;font-size:16px;font-weight:bold;color:#000;transform:translate(-50%,-50%);font-family:'Liberation Sans', sans-serif;-webkit-text-stroke:0.3px #000;">オ</div>
<div class="t" style="left:725.1px;top:859.9px;font-size:16px;font-weight:bold;color:#000;transform:translate(-50%,-50%);font-family:'Liberation Sans', sans-serif;-webkit-text-stroke:0.3px #000;">ー</div>
<div class="t" style="left:725.1px;top:891.1px;font-size:16px;font-weight:bold;color:#000;transform:translate(-50%,-50%);font-family:'Liberation Sans', sans-serif;-webkit-text-stroke:0.3px #000;">ル</div>
<div class="t" style="left:725.1px;top:922.4px;font-size:16px;font-weight:bold;color:#000;transform:translate(-50%,-50%);font-family:'Liberation Sans', sans-serif;-webkit-text-stroke:0.3px #000;">ブ</div>
<div class="t" style="left:725.1px;top:953.6px;font-size:16px;font-weight:bold;color:#000;transform:translate(-50%,-50%);font-family:'Liberation Sans', sans-serif;-webkit-text-stroke:0.3px #000;">ラ</div>
<div class="t" style="left:725.1px;top:984.8px;font-size:16px;font-weight:bold;color:#000;transform:translate(-50%,-50%);font-family:'Liberation Sans', sans-serif;-webkit-text-stroke:0.3px #000;">ッ</div>
<div class="t" style="left:725.1px;top:1016.1px;font-size:16px;font-weight:bold;color:#000;transform:translate(-50%,-50%);font-family:'Liberation Sans', sans-serif;-webkit-text-stroke:0.3px #000;">ク</div>
<div class="t" style="left:725.1px;top:1047.3px;font-size:16px;font-weight:bold;color:#000;transform:translate(-50%,-50%);font-family:'Liberation Sans', sans-serif;-webkit-text-stroke:0.3px #000;">ス</div>
<div class="t" style="left:725.1px;top:1078.5px;font-size:16px;font-weight:bold;color:#000;transform:translate(-50%,-50%);font-family:'Liberation Sans', sans-serif;-webkit-text-stroke:0.3px #000;">ヤ</div>
<div class="t" style="left:725.1px;top:1109.8px;font-size:16px;font-weight:bold;color:#000;transform:translate(-50%,-50%);font-family:'Liberation Sans', sans-serif;-webkit-text-stroke:0.3px #000;">ン</div>
<div class="t" style="left:725.1px;top:1141.0px;font-size:16px;font-weight:bold;color:#000;transform:translate(-50%,-50%);font-family:'Liberation Sans', sans-serif;-webkit-text-stroke:0.3px #000;">グ</div>
<div class="t" style="left:773.6px;top:766.2px;font-size:16px;font-weight:bold;color:#000;transform:translate(-50%,-50%);font-family:'Liberation Sans', sans-serif;-webkit-text-stroke:0.3px #000;">岐</div>
<div class="t" style="left:773.6px;top:828.7px;font-size:16px;font-weight:bold;color:#000;transform:translate(-50%,-50%);font-family:'Liberation Sans', sans-serif;-webkit-text-stroke:0.3px #000;">阜</div>
<div class="t" style="left:773.6px;top:891.1px;font-size:16px;font-weight:bold;color:#000;transform:translate(-50%,-50%);font-family:'Liberation Sans', sans-serif;-webkit-text-stroke:0.3px #000;">清</div>
<div class="t" style="left:773.6px;top:953.6px;font-size:16px;font-weight:bold;color:#000;transform:translate(-50%,-50%);font-family:'Liberation Sans', sans-serif;-webkit-text-stroke:0.3px #000;">流</div>
<div class="t" style="left:773.6px;top:1016.1px;font-size:16px;font-weight:bold;color:#000;transform:translate(-50%,-50%);font-family:'Liberation Sans', sans-serif;-webkit-text-stroke:0.3px #000;">ヤ</div>
<div class="t" style="left:773.6px;top:1078.5px;font-size:16px;font-weight:bold;color:#000;transform:translate(-50%,-50%);font-family:'Liberation Sans', sans-serif;-webkit-text-stroke:0.3px #000;">ン</div>
<div class="t" style="left:773.6px;top:1141.0px;font-size:16px;font-weight:bold;color:#000;transform:translate(-50%,-50%);font-family:'Liberation Sans', sans-serif;-webkit-text-stroke:0.3px #000;">グ</div>
<div class="t" style="left:822.1px;top:766.2px;font-size:16px;font-weight:bold;color:#000;transform:translate(-50%,-50%);font-family:'Liberation Sans', sans-serif;-webkit-text-stroke:0.3px #000;">サ</div>
<div class="t" style="left:822.1px;top:807.8px;font-size:16px;font-weight:bold;color:#000;transform:translate(-50%,-50%);font-family:'Liberation Sans', sans-serif;-webkit-text-stroke:0.3px #000;">ウ</div>
<div class="t" style="left:822.1px;top:849.5px;font-size:16px;font-weight:bold;color:#000;transform:translate(-50%,-50%);font-family:'Liberation Sans', sans-serif;-webkit-text-stroke:0.3px #000;">ス</div>
<div class="t" style="left:822.1px;top:891.1px;font-size:16px;font-weight:bold;color:#000;transform:translate(-50%,-50%);font-family:'Liberation Sans', sans-serif;-webkit-text-stroke:0.3px #000;">ウ</div>
<div class="t" style="left:822.1px;top:932.8px;font-size:16px;font-weight:bold;color:#000;transform:translate(-50%,-50%);font-family:'Liberation Sans', sans-serif;-webkit-text-stroke:0.3px #000;">イ</div>
<div class="t" style="left:822.1px;top:974.4px;font-size:16px;font-weight:bold;color:#000;transform:translate(-50%,-50%);font-family:'Liberation Sans', sans-serif;-webkit-text-stroke:0.3px #000;">ン</div>
<div class="t" style="left:822.1px;top:1016.1px;font-size:16px;font-weight:bold;color:#000;transform:translate(-50%,-50%);font-family:'Liberation Sans', sans-serif;-webkit-text-stroke:0.3px #000;">ド</div>
<div class="t" style="left:822.1px;top:1057.7px;font-size:16px;font-weight:bold;color:#000;transform:translate(-50%,-50%);font-family:'Liberation Sans', sans-serif;-webkit-text-stroke:0.3px #000;">ヤ</div>
<div class="t" style="left:822.1px;top:1099.4px;font-size:16px;font-weight:bold;color:#000;transform:translate(-50%,-50%);font-family:'Liberation Sans', sans-serif;-webkit-text-stroke:0.3px #000;">ン</div>
<div class="t" style="left:822.1px;top:1141.0px;font-size:16px;font-weight:bold;color:#000;transform:translate(-50%,-50%);font-family:'Liberation Sans', sans-serif;-webkit-text-stroke:0.3px #000;">グ</div>
<div class="t" style="left:870.5px;top:766.2px;font-size:16px;font-weight:bold;color:#000;transform:translate(-50%,-50%);font-family:'Liberation Sans', sans-serif;-webkit-text-stroke:0.3px #000;">ヤ</div>
<div class="t" style="left:870.5px;top:795.0px;font-size:16px;font-weight:bold;color:#000;transform:translate(-50%,-50%);font-family:'Liberation Sans', sans-serif;-webkit-text-stroke:0.3px #000;">ン</div>
<div class="t" style="left:870.5px;top:823.9px;font-size:16px;font-weight:bold;color:#000;transform:translate(-50%,-50%);font-family:'Liberation Sans', sans-serif;-webkit-text-stroke:0.3px #000;">グ</div>
<div class="t" style="left:870.5px;top:852.7px;font-size:16px;font-weight:bold;color:#000;transform:translate(-50%,-50%);font-family:'Liberation Sans', sans-serif;-webkit-text-stroke:0.3px #000;">東</div>
<div class="t" style="left:870.5px;top:881.5px;font-size:16px;font-weight:bold;color:#000;transform:translate(-50%,-50%);font-family:'Liberation Sans', sans-serif;-webkit-text-stroke:0.3px #000;">加</div>
<div class="t" style="left:870.5px;top:910.4px;font-size:16px;font-weight:bold;color:#000;transform:translate(-50%,-50%);font-family:'Liberation Sans', sans-serif;-webkit-text-stroke:0.3px #000;">古</div>
<div class="t" style="left:870.5px;top:939.2px;font-size:16px;font-weight:bold;color:#000;transform:translate(-50%,-50%);font-family:'Liberation Sans', sans-serif;-webkit-text-stroke:0.3px #000;">川</div>
<div class="t" style="left:870.5px;top:968.0px;font-size:16px;font-weight:bold;color:#000;transform:translate(-50%,-50%);font-family:'Liberation Sans', sans-serif;-webkit-text-stroke:0.3px #000;">レ</div>
<div class="t" style="left:870.5px;top:996.8px;font-size:16px;font-weight:bold;color:#000;transform:translate(-50%,-50%);font-family:'Liberation Sans', sans-serif;-webkit-text-stroke:0.3px #000;">ッ</div>
<div class="t" style="left:870.5px;top:1025.7px;font-size:16px;font-weight:bold;color:#000;transform:translate(-50%,-50%);font-family:'Liberation Sans', sans-serif;-webkit-text-stroke:0.3px #000;">ド</div>
<div class="t" style="left:870.5px;top:1054.5px;font-size:16px;font-weight:bold;color:#000;transform:translate(-50%,-50%);font-family:'Liberation Sans', sans-serif;-webkit-text-stroke:0.3px #000;">ア</div>
<div class="t" style="left:870.5px;top:1083.3px;font-size:16px;font-weight:bold;color:#000;transform:translate(-50%,-50%);font-family:'Liberation Sans', sans-serif;-webkit-text-stroke:0.3px #000;">ロ</div>
<div class="t" style="left:870.5px;top:1112.2px;font-size:16px;font-weight:bold;color:#000;transform:translate(-50%,-50%);font-family:'Liberation Sans', sans-serif;-webkit-text-stroke:0.3px #000;">ー</div>
<div class="t" style="left:870.5px;top:1141.0px;font-size:16px;font-weight:bold;color:#000;transform:translate(-50%,-50%);font-family:'Liberation Sans', sans-serif;-webkit-text-stroke:0.3px #000;">ズ</div>
<div class="t" style="left:919.0px;top:766.2px;font-size:16px;font-weight:bold;color:#000;transform:translate(-50%,-50%);font-family:'Liberation Sans', sans-serif;-webkit-text-stroke:0.3px #000;">京</div>
<div class="t" style="left:919.0px;top:795.0px;font-size:16px;font-weight:bold;color:#000;transform:translate(-50%,-50%);font-family:'Liberation Sans', sans-serif;-webkit-text-stroke:0.3px #000;">都</div>
<div class="t" style="left:919.0px;top:823.9px;font-size:16px;font-weight:bold;color:#000;transform:translate(-50%,-50%);font-family:'Liberation Sans', sans-serif;-webkit-text-stroke:0.3px #000;">ヤ</div>
<div class="t" style="left:919.0px;top:852.7px;font-size:16px;font-weight:bold;color:#000;transform:translate(-50%,-50%);font-family:'Liberation Sans', sans-serif;-webkit-text-stroke:0.3px #000;">ン</div>
<div class="t" style="left:919.0px;top:881.5px;font-size:16px;font-weight:bold;color:#000;transform:translate(-50%,-50%);font-family:'Liberation Sans', sans-serif;-webkit-text-stroke:0.3px #000;">グ</div>
<div class="t" style="left:919.0px;top:910.4px;font-size:16px;font-weight:bold;color:#000;transform:translate(-50%,-50%);font-family:'Liberation Sans', sans-serif;-webkit-text-stroke:0.3px #000;">ベ</div>
<div class="t" style="left:919.0px;top:939.2px;font-size:16px;font-weight:bold;color:#000;transform:translate(-50%,-50%);font-family:'Liberation Sans', sans-serif;-webkit-text-stroke:0.3px #000;">ー</div>
<div class="t" style="left:919.0px;top:968.0px;font-size:16px;font-weight:bold;color:#000;transform:translate(-50%,-50%);font-family:'Liberation Sans', sans-serif;-webkit-text-stroke:0.3px #000;">ス</div>
<div class="t" style="left:919.0px;top:996.8px;font-size:16px;font-weight:bold;color:#000;transform:translate(-50%,-50%);font-family:'Liberation Sans', sans-serif;-webkit-text-stroke:0.3px #000;">ボ</div>
<div class="t" style="left:919.0px;top:1025.7px;font-size:16px;font-weight:bold;color:#000;transform:translate(-50%,-50%);font-family:'Liberation Sans', sans-serif;-webkit-text-stroke:0.3px #000;">ー</div>
<div class="t" style="left:919.0px;top:1054.5px;font-size:16px;font-weight:bold;color:#000;transform:translate(-50%,-50%);font-family:'Liberation Sans', sans-serif;-webkit-text-stroke:0.3px #000;">ル</div>
<div class="t" style="left:919.0px;top:1083.3px;font-size:16px;font-weight:bold;color:#000;transform:translate(-50%,-50%);font-family:'Liberation Sans', sans-serif;-webkit-text-stroke:0.3px #000;">ク</div>
<div class="t" style="left:919.0px;top:1112.2px;font-size:16px;font-weight:bold;color:#000;transform:translate(-50%,-50%);font-family:'Liberation Sans', sans-serif;-webkit-text-stroke:0.3px #000;">ラ</div>
<div class="t" style="left:919.0px;top:1141.0px;font-size:16px;font-weight:bold;color:#000;transform:translate(-50%,-50%);font-family:'Liberation Sans', sans-serif;-webkit-text-stroke:0.3px #000;">ブ</div>
<div class="t" style="left:967.5px;top:766.2px;font-size:16px;font-weight:bold;color:#000;transform:translate(-50%,-50%);font-family:'Liberation Sans', sans-serif;-webkit-text-stroke:0.3px #000;">浜</div>
<div class="t" style="left:967.5px;top:800.3px;font-size:16px;font-weight:bold;color:#000;transform:translate(-50%,-50%);font-family:'Liberation Sans', sans-serif;-webkit-text-stroke:0.3px #000;">松</div>
<div class="t" style="left:967.5px;top:834.3px;font-size:16px;font-weight:bold;color:#000;transform:translate(-50%,-50%);font-family:'Liberation Sans', sans-serif;-webkit-text-stroke:0.3px #000;">イ</div>
<div class="t" style="left:967.5px;top:868.4px;font-size:16px;font-weight:bold;color:#000;transform:translate(-50%,-50%);font-family:'Liberation Sans', sans-serif;-webkit-text-stroke:0.3px #000;">ン</div>
<div class="t" style="left:967.5px;top:902.5px;font-size:16px;font-weight:bold;color:#000;transform:translate(-50%,-50%);font-family:'Liberation Sans', sans-serif;-webkit-text-stroke:0.3px #000;">フ</div>
<div class="t" style="left:967.5px;top:936.6px;font-size:16px;font-weight:bold;color:#000;transform:translate(-50%,-50%);font-family:'Liberation Sans', sans-serif;-webkit-text-stroke:0.3px #000;">ィ</div>
<div class="t" style="left:967.5px;top:970.6px;font-size:16px;font-weight:bold;color:#000;transform:translate(-50%,-50%);font-family:'Liberation Sans', sans-serif;-webkit-text-stroke:0.3px #000;">ニ</div>
<div class="t" style="left:967.5px;top:1004.7px;font-size:16px;font-weight:bold;color:#000;transform:translate(-50%,-50%);font-family:'Liberation Sans', sans-serif;-webkit-text-stroke:0.3px #000;">テ</div>
<div class="t" style="left:967.5px;top:1038.8px;font-size:16px;font-weight:bold;color:#000;transform:translate(-50%,-50%);font-family:'Liberation Sans', sans-serif;-webkit-text-stroke:0.3px #000;">ィ</div>
<div class="t" style="left:967.5px;top:1072.9px;font-size:16px;font-weight:bold;color:#000;transform:translate(-50%,-50%);font-family:'Liberation Sans', sans-serif;-webkit-text-stroke:0.3px #000;">ヤ</div>
<div class="t" style="left:967.5px;top:1106.9px;font-size:16px;font-weight:bold;color:#000;transform:translate(-50%,-50%);font-family:'Liberation Sans', sans-serif;-webkit-text-stroke:0.3px #000;">ン</div>
<div class="t" style="left:967.5px;top:1141.0px;font-size:16px;font-weight:bold;color:#000;transform:translate(-50%,-50%);font-family:'Liberation Sans', sans-serif;-webkit-text-stroke:0.3px #000;">グ</div>
<div class="t" style="left:1015.9px;top:766.2px;font-size:16px;font-weight:bold;color:#000;transform:translate(-50%,-50%);font-family:'Liberation Sans', sans-serif;-webkit-text-stroke:0.3px #000;">北</div>
<div class="t" style="left:1015.9px;top:795.0px;font-size:16px;font-weight:bold;color:#000;transform:translate(-50%,-50%);font-family:'Liberation Sans', sans-serif;-webkit-text-stroke:0.3px #000;">大</div>
<div class="t" style="left:1015.9px;top:823.9px;font-size:16px;font-weight:bold;color:#000;transform:translate(-50%,-50%);font-family:'Liberation Sans', sans-serif;-webkit-text-stroke:0.3px #000;">阪</div>
<div class="t" style="left:1015.9px;top:852.7px;font-size:16px;font-weight:bold;color:#000;transform:translate(-50%,-50%);font-family:'Liberation Sans', sans-serif;-webkit-text-stroke:0.3px #000;">ヤ</div>
<div class="t" style="left:1015.9px;top:881.5px;font-size:16px;font-weight:bold;color:#000;transform:translate(-50%,-50%);font-family:'Liberation Sans', sans-serif;-webkit-text-stroke:0.3px #000;">ン</div>
<div class="t" style="left:1015.9px;top:910.4px;font-size:16px;font-weight:bold;color:#000;transform:translate(-50%,-50%);font-family:'Liberation Sans', sans-serif;-webkit-text-stroke:0.3px #000;">グ</div>
<div class="t" style="left:1015.9px;top:939.2px;font-size:16px;font-weight:bold;color:#000;transform:translate(-50%,-50%);font-family:'Liberation Sans', sans-serif;-webkit-text-stroke:0.3px #000;">少</div>
<div class="t" style="left:1015.9px;top:968.0px;font-size:16px;font-weight:bold;color:#000;transform:translate(-50%,-50%);font-family:'Liberation Sans', sans-serif;-webkit-text-stroke:0.3px #000;">年</div>
<div class="t" style="left:1015.9px;top:996.8px;font-size:16px;font-weight:bold;color:#000;transform:translate(-50%,-50%);font-family:'Liberation Sans', sans-serif;-webkit-text-stroke:0.3px #000;">硬</div>
<div class="t" style="left:1015.9px;top:1025.7px;font-size:16px;font-weight:bold;color:#000;transform:translate(-50%,-50%);font-family:'Liberation Sans', sans-serif;-webkit-text-stroke:0.3px #000;">式</div>
<div class="t" style="left:1015.9px;top:1054.5px;font-size:16px;font-weight:bold;color:#000;transform:translate(-50%,-50%);font-family:'Liberation Sans', sans-serif;-webkit-text-stroke:0.3px #000;">野</div>
<div class="t" style="left:1015.9px;top:1083.3px;font-size:16px;font-weight:bold;color:#000;transform:translate(-50%,-50%);font-family:'Liberation Sans', sans-serif;-webkit-text-stroke:0.3px #000;">球</div>
<div class="t" style="left:1015.9px;top:1112.2px;font-size:16px;font-weight:bold;color:#000;transform:translate(-50%,-50%);font-family:'Liberation Sans', sans-serif;-webkit-text-stroke:0.3px #000;">協</div>
<div class="t" style="left:1015.9px;top:1141.0px;font-size:16px;font-weight:bold;color:#000;transform:translate(-50%,-50%);font-family:'Liberation Sans', sans-serif;-webkit-text-stroke:0.3px #000;">会</div>
<div class="t" style="left:1064.4px;top:766.2px;font-size:16px;font-weight:bold;color:#000;transform:translate(-50%,-50%);font-family:'Liberation Sans', sans-serif;-webkit-text-stroke:0.3px #000;">葛</div>
<div class="t" style="left:1064.4px;top:859.9px;font-size:16px;font-weight:bold;color:#000;transform:translate(-50%,-50%);font-family:'Liberation Sans', sans-serif;-webkit-text-stroke:0.3px #000;">城</div>
<div class="t" style="left:1064.4px;top:953.6px;font-size:16px;font-weight:bold;color:#000;transform:translate(-50%,-50%);font-family:'Liberation Sans', sans-serif;-webkit-text-stroke:0.3px #000;">ヤ</div>
<div class="t" style="left:1064.4px;top:1047.3px;font-size:16px;font-weight:bold;color:#000;transform:translate(-50%,-50%);font-family:'Liberation Sans', sans-serif;-webkit-text-stroke:0.3px #000;">ン</div>
<div class="t" style="left:1064.4px;top:1141.0px;font-size:16px;font-weight:bold;color:#000;transform:translate(-50%,-50%);font-family:'Liberation Sans', sans-serif;-webkit-text-stroke:0.3px #000;">グ</div>
<div class="t" style="left:1112.9px;top:766.2px;font-size:16px;font-weight:bold;color:#000;transform:translate(-50%,-50%);font-family:'Liberation Sans', sans-serif;-webkit-text-stroke:0.3px #000;">貝</div>
<div class="t" style="left:1112.9px;top:859.9px;font-size:16px;font-weight:bold;color:#000;transform:translate(-50%,-50%);font-family:'Liberation Sans', sans-serif;-webkit-text-stroke:0.3px #000;">塚</div>
<div class="t" style="left:1112.9px;top:953.6px;font-size:16px;font-weight:bold;color:#000;transform:translate(-50%,-50%);font-family:'Liberation Sans', sans-serif;-webkit-text-stroke:0.3px #000;">ヤ</div>
<div class="t" style="left:1112.9px;top:1047.3px;font-size:16px;font-weight:bold;color:#000;transform:translate(-50%,-50%);font-family:'Liberation Sans', sans-serif;-webkit-text-stroke:0.3px #000;">ン</div>
<div class="t" style="left:1112.9px;top:1141.0px;font-size:16px;font-weight:bold;color:#000;transform:translate(-50%,-50%);font-family:'Liberation Sans', sans-serif;-webkit-text-stroke:0.3px #000;">グ</div>
<div class="t" style="left:1161.3px;top:766.2px;font-size:16px;font-weight:bold;color:#000;transform:translate(-50%,-50%);font-family:'Liberation Sans', sans-serif;-webkit-text-stroke:0.3px #000;">兵</div>
<div class="t" style="left:1161.3px;top:803.7px;font-size:16px;font-weight:bold;color:#000;transform:translate(-50%,-50%);font-family:'Liberation Sans', sans-serif;-webkit-text-stroke:0.3px #000;">庫</div>
<div class="t" style="left:1161.3px;top:841.2px;font-size:16px;font-weight:bold;color:#000;transform:translate(-50%,-50%);font-family:'Liberation Sans', sans-serif;-webkit-text-stroke:0.3px #000;">ヤ</div>
<div class="t" style="left:1161.3px;top:878.6px;font-size:16px;font-weight:bold;color:#000;transform:translate(-50%,-50%);font-family:'Liberation Sans', sans-serif;-webkit-text-stroke:0.3px #000;">ン</div>
<div class="t" style="left:1161.3px;top:916.1px;font-size:16px;font-weight:bold;color:#000;transform:translate(-50%,-50%);font-family:'Liberation Sans', sans-serif;-webkit-text-stroke:0.3px #000;">グ</div>
<div class="t" style="left:1161.3px;top:953.6px;font-size:16px;font-weight:bold;color:#000;transform:translate(-50%,-50%);font-family:'Liberation Sans', sans-serif;-webkit-text-stroke:0.3px #000;">フ</div>
<div class="t" style="left:1161.3px;top:991.1px;font-size:16px;font-weight:bold;color:#000;transform:translate(-50%,-50%);font-family:'Liberation Sans', sans-serif;-webkit-text-stroke:0.3px #000;">ェ</div>
<div class="t" style="left:1161.3px;top:1028.6px;font-size:16px;font-weight:bold;color:#000;transform:translate(-50%,-50%);font-family:'Liberation Sans', sans-serif;-webkit-text-stroke:0.3px #000;">ニ</div>
<div class="t" style="left:1161.3px;top:1066.0px;font-size:16px;font-weight:bold;color:#000;transform:translate(-50%,-50%);font-family:'Liberation Sans', sans-serif;-webkit-text-stroke:0.3px #000;">ッ</div>
<div class="t" style="left:1161.3px;top:1103.5px;font-size:16px;font-weight:bold;color:#000;transform:translate(-50%,-50%);font-family:'Liberation Sans', sans-serif;-webkit-text-stroke:0.3px #000;">ク</div>
<div class="t" style="left:1161.3px;top:1141.0px;font-size:16px;font-weight:bold;color:#000;transform:translate(-50%,-50%);font-family:'Liberation Sans', sans-serif;-webkit-text-stroke:0.3px #000;">ス</div>
<div class="t" style="left:1209.8px;top:766.2px;font-size:16px;font-weight:bold;color:#000;transform:translate(-50%,-50%);font-family:'Liberation Sans', sans-serif;-webkit-text-stroke:0.3px #000;">交</div>
<div class="t" style="left:1209.8px;top:828.7px;font-size:16px;font-weight:bold;color:#000;transform:translate(-50%,-50%);font-family:'Liberation Sans', sans-serif;-webkit-text-stroke:0.3px #000;">野</div>
<div class="t" style="left:1209.8px;top:891.1px;font-size:16px;font-weight:bold;color:#000;transform:translate(-50%,-50%);font-family:'Liberation Sans', sans-serif;-webkit-text-stroke:0.3px #000;">翔</div>
<div class="t" style="left:1209.8px;top:953.6px;font-size:16px;font-weight:bold;color:#000;transform:translate(-50%,-50%);font-family:'Liberation Sans', sans-serif;-webkit-text-stroke:0.3px #000;">輝</div>
<div class="t" style="left:1209.8px;top:1016.1px;font-size:16px;font-weight:bold;color:#000;transform:translate(-50%,-50%);font-family:'Liberation Sans', sans-serif;-webkit-text-stroke:0.3px #000;">ヤ</div>
<div class="t" style="left:1209.8px;top:1078.5px;font-size:16px;font-weight:bold;color:#000;transform:translate(-50%,-50%);font-family:'Liberation Sans', sans-serif;-webkit-text-stroke:0.3px #000;">ン</div>
<div class="t" style="left:1209.8px;top:1141.0px;font-size:16px;font-weight:bold;color:#000;transform:translate(-50%,-50%);font-family:'Liberation Sans', sans-serif;-webkit-text-stroke:0.3px #000;">グ</div>
<div class="t" style="left:1258.3px;top:766.2px;font-size:16px;font-weight:bold;color:#000;transform:translate(-50%,-50%);font-family:'Liberation Sans', sans-serif;-webkit-text-stroke:0.3px #000;">兵</div>
<div class="t" style="left:1258.3px;top:828.7px;font-size:16px;font-weight:bold;color:#000;transform:translate(-50%,-50%);font-family:'Liberation Sans', sans-serif;-webkit-text-stroke:0.3px #000;">庫</div>
<div class="t" style="left:1258.3px;top:891.1px;font-size:16px;font-weight:bold;color:#000;transform:translate(-50%,-50%);font-family:'Liberation Sans', sans-serif;-webkit-text-stroke:0.3px #000;">川</div>
<div class="t" style="left:1258.3px;top:953.6px;font-size:16px;font-weight:bold;color:#000;transform:translate(-50%,-50%);font-family:'Liberation Sans', sans-serif;-webkit-text-stroke:0.3px #000;">西</div>
<div class="t" style="left:1258.3px;top:1016.1px;font-size:16px;font-weight:bold;color:#000;transform:translate(-50%,-50%);font-family:'Liberation Sans', sans-serif;-webkit-text-stroke:0.3px #000;">ヤ</div>
<div class="t" style="left:1258.3px;top:1078.5px;font-size:16px;font-weight:bold;color:#000;transform:translate(-50%,-50%);font-family:'Liberation Sans', sans-serif;-webkit-text-stroke:0.3px #000;">ン</div>
<div class="t" style="left:1258.3px;top:1141.0px;font-size:16px;font-weight:bold;color:#000;transform:translate(-50%,-50%);font-family:'Liberation Sans', sans-serif;-webkit-text-stroke:0.3px #000;">グ</div>
<div class="t" style="left:1306.8px;top:766.2px;font-size:16px;font-weight:bold;color:#000;transform:translate(-50%,-50%);font-family:'Liberation Sans', sans-serif;-webkit-text-stroke:0.3px #000;">高</div>
<div class="t" style="left:1306.8px;top:795.0px;font-size:16px;font-weight:bold;color:#000;transform:translate(-50%,-50%);font-family:'Liberation Sans', sans-serif;-webkit-text-stroke:0.3px #000;">岡</div>
<div class="t" style="left:1306.8px;top:823.9px;font-size:16px;font-weight:bold;color:#000;transform:translate(-50%,-50%);font-family:'Liberation Sans', sans-serif;-webkit-text-stroke:0.3px #000;">ヤ</div>
<div class="t" style="left:1306.8px;top:852.7px;font-size:16px;font-weight:bold;color:#000;transform:translate(-50%,-50%);font-family:'Liberation Sans', sans-serif;-webkit-text-stroke:0.3px #000;">ン</div>
<div class="t" style="left:1306.8px;top:881.5px;font-size:16px;font-weight:bold;color:#000;transform:translate(-50%,-50%);font-family:'Liberation Sans', sans-serif;-webkit-text-stroke:0.3px #000;">グ</div>
<div class="t" style="left:1306.8px;top:910.4px;font-size:16px;font-weight:bold;color:#000;transform:translate(-50%,-50%);font-family:'Liberation Sans', sans-serif;-webkit-text-stroke:0.3px #000;">ベ</div>
<div class="t" style="left:1306.8px;top:939.2px;font-size:16px;font-weight:bold;color:#000;transform:translate(-50%,-50%);font-family:'Liberation Sans', sans-serif;-webkit-text-stroke:0.3px #000;">ー</div>
<div class="t" style="left:1306.8px;top:968.0px;font-size:16px;font-weight:bold;color:#000;transform:translate(-50%,-50%);font-family:'Liberation Sans', sans-serif;-webkit-text-stroke:0.3px #000;">ス</div>
<div class="t" style="left:1306.8px;top:996.8px;font-size:16px;font-weight:bold;color:#000;transform:translate(-50%,-50%);font-family:'Liberation Sans', sans-serif;-webkit-text-stroke:0.3px #000;">ボ</div>
<div class="t" style="left:1306.8px;top:1025.7px;font-size:16px;font-weight:bold;color:#000;transform:translate(-50%,-50%);font-family:'Liberation Sans', sans-serif;-webkit-text-stroke:0.3px #000;">ー</div>
<div class="t" style="left:1306.8px;top:1054.5px;font-size:16px;font-weight:bold;color:#000;transform:translate(-50%,-50%);font-family:'Liberation Sans', sans-serif;-webkit-text-stroke:0.3px #000;">ル</div>
<div class="t" style="left:1306.8px;top:1083.3px;font-size:16px;font-weight:bold;color:#000;transform:translate(-50%,-50%);font-family:'Liberation Sans', sans-serif;-webkit-text-stroke:0.3px #000;">ク</div>
<div class="t" style="left:1306.8px;top:1112.2px;font-size:16px;font-weight:bold;color:#000;transform:translate(-50%,-50%);font-family:'Liberation Sans', sans-serif;-webkit-text-stroke:0.3px #000;">ラ</div>
<div class="t" style="left:1306.8px;top:1141.0px;font-size:16px;font-weight:bold;color:#000;transform:translate(-50%,-50%);font-family:'Liberation Sans', sans-serif;-webkit-text-stroke:0.3px #000;">ブ</div>
<div class="t" style="left:1355.2px;top:766.2px;font-size:16px;font-weight:bold;color:#000;transform:translate(-50%,-50%);font-family:'Liberation Sans', sans-serif;-webkit-text-stroke:0.3px #000;">和</div>
<div class="t" style="left:1355.2px;top:797.4px;font-size:16px;font-weight:bold;color:#000;transform:translate(-50%,-50%);font-family:'Liberation Sans', sans-serif;-webkit-text-stroke:0.3px #000;">歌</div>
<div class="t" style="left:1355.2px;top:828.7px;font-size:16px;font-weight:bold;color:#000;transform:translate(-50%,-50%);font-family:'Liberation Sans', sans-serif;-webkit-text-stroke:0.3px #000;">山</div>
<div class="t" style="left:1355.2px;top:859.9px;font-size:16px;font-weight:bold;color:#000;transform:translate(-50%,-50%);font-family:'Liberation Sans', sans-serif;-webkit-text-stroke:0.3px #000;">打</div>
<div class="t" style="left:1355.2px;top:891.1px;font-size:16px;font-weight:bold;color:#000;transform:translate(-50%,-50%);font-family:'Liberation Sans', sans-serif;-webkit-text-stroke:0.3px #000;">田</div>
<div class="t" style="left:1355.2px;top:922.4px;font-size:16px;font-weight:bold;color:#000;transform:translate(-50%,-50%);font-family:'Liberation Sans', sans-serif;-webkit-text-stroke:0.3px #000;">ヤ</div>
<div class="t" style="left:1355.2px;top:953.6px;font-size:16px;font-weight:bold;color:#000;transform:translate(-50%,-50%);font-family:'Liberation Sans', sans-serif;-webkit-text-stroke:0.3px #000;">ン</div>
<div class="t" style="left:1355.2px;top:984.8px;font-size:16px;font-weight:bold;color:#000;transform:translate(-50%,-50%);font-family:'Liberation Sans', sans-serif;-webkit-text-stroke:0.3px #000;">グ</div>
<div class="t" style="left:1355.2px;top:1016.1px;font-size:16px;font-weight:bold;color:#000;transform:translate(-50%,-50%);font-family:'Liberation Sans', sans-serif;-webkit-text-stroke:0.3px #000;">タ</div>
<div class="t" style="left:1355.2px;top:1047.3px;font-size:16px;font-weight:bold;color:#000;transform:translate(-50%,-50%);font-family:'Liberation Sans', sans-serif;-webkit-text-stroke:0.3px #000;">イ</div>
<div class="t" style="left:1355.2px;top:1078.5px;font-size:16px;font-weight:bold;color:#000;transform:translate(-50%,-50%);font-family:'Liberation Sans', sans-serif;-webkit-text-stroke:0.3px #000;">ガ</div>
<div class="t" style="left:1355.2px;top:1109.8px;font-size:16px;font-weight:bold;color:#000;transform:translate(-50%,-50%);font-family:'Liberation Sans', sans-serif;-webkit-text-stroke:0.3px #000;">ー</div>
<div class="t" style="left:1355.2px;top:1141.0px;font-size:16px;font-weight:bold;color:#000;transform:translate(-50%,-50%);font-family:'Liberation Sans', sans-serif;-webkit-text-stroke:0.3px #000;">ス</div>
<div class="t" style="left:1403.7px;top:766.2px;font-size:16px;font-weight:bold;color:#000;transform:translate(-50%,-50%);font-family:'Liberation Sans', sans-serif;-webkit-text-stroke:0.3px #000;">大</div>
<div class="t" style="left:1403.7px;top:828.7px;font-size:16px;font-weight:bold;color:#000;transform:translate(-50%,-50%);font-family:'Liberation Sans', sans-serif;-webkit-text-stroke:0.3px #000;">阪</div>
<div class="t" style="left:1403.7px;top:891.1px;font-size:16px;font-weight:bold;color:#000;transform:translate(-50%,-50%);font-family:'Liberation Sans', sans-serif;-webkit-text-stroke:0.3px #000;">球</div>
<div class="t" style="left:1403.7px;top:953.6px;font-size:16px;font-weight:bold;color:#000;transform:translate(-50%,-50%);font-family:'Liberation Sans', sans-serif;-webkit-text-stroke:0.3px #000;">道</div>
<div class="t" style="left:1403.7px;top:1016.1px;font-size:16px;font-weight:bold;color:#000;transform:translate(-50%,-50%);font-family:'Liberation Sans', sans-serif;-webkit-text-stroke:0.3px #000;">ヤ</div>
<div class="t" style="left:1403.7px;top:1078.5px;font-size:16px;font-weight:bold;color:#000;transform:translate(-50%,-50%);font-family:'Liberation Sans', sans-serif;-webkit-text-stroke:0.3px #000;">ン</div>
<div class="t" style="left:1403.7px;top:1141.0px;font-size:16px;font-weight:bold;color:#000;transform:translate(-50%,-50%);font-family:'Liberation Sans', sans-serif;-webkit-text-stroke:0.3px #000;">グ</div>
<div class="t" style="left:1452.2px;top:766.2px;font-size:16px;font-weight:bold;color:#000;transform:translate(-50%,-50%);font-family:'Liberation Sans', sans-serif;-webkit-text-stroke:0.3px #000;">ヤ</div>
<div class="t" style="left:1452.2px;top:813.1px;font-size:16px;font-weight:bold;color:#000;transform:translate(-50%,-50%);font-family:'Liberation Sans', sans-serif;-webkit-text-stroke:0.3px #000;">ン</div>
<div class="t" style="left:1452.2px;top:859.9px;font-size:16px;font-weight:bold;color:#000;transform:translate(-50%,-50%);font-family:'Liberation Sans', sans-serif;-webkit-text-stroke:0.3px #000;">グ</div>
<div class="t" style="left:1452.2px;top:906.8px;font-size:16px;font-weight:bold;color:#000;transform:translate(-50%,-50%);font-family:'Liberation Sans', sans-serif;-webkit-text-stroke:0.3px #000;">徳</div>
<div class="t" style="left:1452.2px;top:953.6px;font-size:16px;font-weight:bold;color:#000;transform:translate(-50%,-50%);font-family:'Liberation Sans', sans-serif;-webkit-text-stroke:0.3px #000;">島</div>
<div class="t" style="left:1452.2px;top:1000.5px;font-size:16px;font-weight:bold;color:#000;transform:translate(-50%,-50%);font-family:'Liberation Sans', sans-serif;-webkit-text-stroke:0.3px #000;">ホ</div>
<div class="t" style="left:1452.2px;top:1047.3px;font-size:16px;font-weight:bold;color:#000;transform:translate(-50%,-50%);font-family:'Liberation Sans', sans-serif;-webkit-text-stroke:0.3px #000;">ー</div>
<div class="t" style="left:1452.2px;top:1094.2px;font-size:16px;font-weight:bold;color:#000;transform:translate(-50%,-50%);font-family:'Liberation Sans', sans-serif;-webkit-text-stroke:0.3px #000;">ク</div>
<div class="t" style="left:1452.2px;top:1141.0px;font-size:16px;font-weight:bold;color:#000;transform:translate(-50%,-50%);font-family:'Liberation Sans', sans-serif;-webkit-text-stroke:0.3px #000;">ス</div>
<div class="t" style="left:1500.6px;top:766.2px;font-size:16px;font-weight:bold;color:#000;transform:translate(-50%,-50%);font-family:'Liberation Sans', sans-serif;-webkit-text-stroke:0.3px #000;">愛</div>
<div class="t" style="left:1500.6px;top:819.7px;font-size:16px;font-weight:bold;color:#000;transform:translate(-50%,-50%);font-family:'Liberation Sans', sans-serif;-webkit-text-stroke:0.3px #000;">知</div>
<div class="t" style="left:1500.6px;top:873.3px;font-size:16px;font-weight:bold;color:#000;transform:translate(-50%,-50%);font-family:'Liberation Sans', sans-serif;-webkit-text-stroke:0.3px #000;">F</div>
<div class="t" style="left:1500.6px;top:926.8px;font-size:16px;font-weight:bold;color:#000;transform:translate(-50%,-50%);font-family:'Liberation Sans', sans-serif;-webkit-text-stroke:0.3px #000;">・</div>
<div class="t" style="left:1500.6px;top:980.4px;font-size:16px;font-weight:bold;color:#000;transform:translate(-50%,-50%);font-family:'Liberation Sans', sans-serif;-webkit-text-stroke:0.3px #000;">S</div>
<div class="t" style="left:1500.6px;top:1033.9px;font-size:16px;font-weight:bold;color:#000;transform:translate(-50%,-50%);font-family:'Liberation Sans', sans-serif;-webkit-text-stroke:0.3px #000;">ヤ</div>
<div class="t" style="left:1500.6px;top:1087.5px;font-size:16px;font-weight:bold;color:#000;transform:translate(-50%,-50%);font-family:'Liberation Sans', sans-serif;-webkit-text-stroke:0.3px #000;">ン</div>
<div class="t" style="left:1500.6px;top:1141.0px;font-size:16px;font-weight:bold;color:#000;transform:translate(-50%,-50%);font-family:'Liberation Sans', sans-serif;-webkit-text-stroke:0.3px #000;">グ</div>
<div class="t" style="left:1549.1px;top:766.2px;font-size:16px;font-weight:bold;color:#000;transform:translate(-50%,-50%);font-family:'Liberation Sans', sans-serif;-webkit-text-stroke:0.3px #000;">和</div>
<div class="t" style="left:1549.1px;top:841.2px;font-size:16px;font-weight:bold;color:#000;transform:translate(-50%,-50%);font-family:'Liberation Sans', sans-serif;-webkit-text-stroke:0.3px #000;">歌</div>
<div class="t" style="left:1549.1px;top:916.1px;font-size:16px;font-weight:bold;color:#000;transform:translate(-50%,-50%);font-family:'Liberation Sans', sans-serif;-webkit-text-stroke:0.3px #000;">山</div>
<div class="t" style="left:1549.1px;top:991.1px;font-size:16px;font-weight:bold;color:#000;transform:translate(-50%,-50%);font-family:'Liberation Sans', sans-serif;-webkit-text-stroke:0.3px #000;">ヤ</div>
<div class="t" style="left:1549.1px;top:1066.0px;font-size:16px;font-weight:bold;color:#000;transform:translate(-50%,-50%);font-family:'Liberation Sans', sans-serif;-webkit-text-stroke:0.3px #000;">ン</div>
<div class="t" style="left:1549.1px;top:1141.0px;font-size:16px;font-weight:bold;color:#000;transform:translate(-50%,-50%);font-family:'Liberation Sans', sans-serif;-webkit-text-stroke:0.3px #000;">グ</div>
<div class="t" style="left:1597.6px;top:766.2px;font-size:16px;font-weight:bold;color:#000;transform:translate(-50%,-50%);font-family:'Liberation Sans', sans-serif;-webkit-text-stroke:0.3px #000;">大</div>
<div class="t" style="left:1597.6px;top:803.7px;font-size:16px;font-weight:bold;color:#000;transform:translate(-50%,-50%);font-family:'Liberation Sans', sans-serif;-webkit-text-stroke:0.3px #000;">阪</div>
<div class="t" style="left:1597.6px;top:841.2px;font-size:16px;font-weight:bold;color:#000;transform:translate(-50%,-50%);font-family:'Liberation Sans', sans-serif;-webkit-text-stroke:0.3px #000;">レ</div>
<div class="t" style="left:1597.6px;top:878.6px;font-size:16px;font-weight:bold;color:#000;transform:translate(-50%,-50%);font-family:'Liberation Sans', sans-serif;-webkit-text-stroke:0.3px #000;">ン</div>
<div class="t" style="left:1597.6px;top:916.1px;font-size:16px;font-weight:bold;color:#000;transform:translate(-50%,-50%);font-family:'Liberation Sans', sans-serif;-webkit-text-stroke:0.3px #000;">ジ</div>
<div class="t" style="left:1597.6px;top:953.6px;font-size:16px;font-weight:bold;color:#000;transform:translate(-50%,-50%);font-family:'Liberation Sans', sans-serif;-webkit-text-stroke:0.3px #000;">ャ</div>
<div class="t" style="left:1597.6px;top:991.1px;font-size:16px;font-weight:bold;color:#000;transform:translate(-50%,-50%);font-family:'Liberation Sans', sans-serif;-webkit-text-stroke:0.3px #000;">ー</div>
<div class="t" style="left:1597.6px;top:1028.6px;font-size:16px;font-weight:bold;color:#000;transform:translate(-50%,-50%);font-family:'Liberation Sans', sans-serif;-webkit-text-stroke:0.3px #000;">ズ</div>
<div class="t" style="left:1597.6px;top:1066.0px;font-size:16px;font-weight:bold;color:#000;transform:translate(-50%,-50%);font-family:'Liberation Sans', sans-serif;-webkit-text-stroke:0.3px #000;">ヤ</div>
<div class="t" style="left:1597.6px;top:1103.5px;font-size:16px;font-weight:bold;color:#000;transform:translate(-50%,-50%);font-family:'Liberation Sans', sans-serif;-webkit-text-stroke:0.3px #000;">ン</div>
<div class="t" style="left:1597.6px;top:1141.0px;font-size:16px;font-weight:bold;color:#000;transform:translate(-50%,-50%);font-family:'Liberation Sans', sans-serif;-webkit-text-stroke:0.3px #000;">グ</div>
<div class="t" style="left:1646.0px;top:766.2px;font-size:16px;font-weight:bold;color:#000;transform:translate(-50%,-50%);font-family:'Liberation Sans', sans-serif;-webkit-text-stroke:0.3px #000;">金</div>
<div class="t" style="left:1646.0px;top:800.3px;font-size:16px;font-weight:bold;color:#000;transform:translate(-50%,-50%);font-family:'Liberation Sans', sans-serif;-webkit-text-stroke:0.3px #000;">沢</div>
<div class="t" style="left:1646.0px;top:834.3px;font-size:16px;font-weight:bold;color:#000;transform:translate(-50%,-50%);font-family:'Liberation Sans', sans-serif;-webkit-text-stroke:0.3px #000;">ヤ</div>
<div class="t" style="left:1646.0px;top:868.4px;font-size:16px;font-weight:bold;color:#000;transform:translate(-50%,-50%);font-family:'Liberation Sans', sans-serif;-webkit-text-stroke:0.3px #000;">ン</div>
<div class="t" style="left:1646.0px;top:902.5px;font-size:16px;font-weight:bold;color:#000;transform:translate(-50%,-50%);font-family:'Liberation Sans', sans-serif;-webkit-text-stroke:0.3px #000;">グ</div>
<div class="t" style="left:1646.0px;top:936.6px;font-size:16px;font-weight:bold;color:#000;transform:translate(-50%,-50%);font-family:'Liberation Sans', sans-serif;-webkit-text-stroke:0.3px #000;">ブ</div>
<div class="t" style="left:1646.0px;top:970.6px;font-size:16px;font-weight:bold;color:#000;transform:translate(-50%,-50%);font-family:'Liberation Sans', sans-serif;-webkit-text-stroke:0.3px #000;">ル</div>
<div class="t" style="left:1646.0px;top:1004.7px;font-size:16px;font-weight:bold;color:#000;transform:translate(-50%,-50%);font-family:'Liberation Sans', sans-serif;-webkit-text-stroke:0.3px #000;">ー</div>
<div class="t" style="left:1646.0px;top:1038.8px;font-size:16px;font-weight:bold;color:#000;transform:translate(-50%,-50%);font-family:'Liberation Sans', sans-serif;-webkit-text-stroke:0.3px #000;">ウ</div>
<div class="t" style="left:1646.0px;top:1072.9px;font-size:16px;font-weight:bold;color:#000;transform:translate(-50%,-50%);font-family:'Liberation Sans', sans-serif;-webkit-text-stroke:0.3px #000;">ェ</div>
<div class="t" style="left:1646.0px;top:1106.9px;font-size:16px;font-weight:bold;color:#000;transform:translate(-50%,-50%);font-family:'Liberation Sans', sans-serif;-webkit-text-stroke:0.3px #000;">ー</div>
<div class="t" style="left:1646.0px;top:1141.0px;font-size:16px;font-weight:bold;color:#000;transform:translate(-50%,-50%);font-family:'Liberation Sans', sans-serif;-webkit-text-stroke:0.3px #000;">ブ</div>
<div class="t" style="left:156.7px;top:1176.9px;font-size:14px;font-weight:bold;color:#000;transform:translate(-50%,-50%);font-family:'Liberation Sans', sans-serif;">大</div>
<div class="t" style="left:156.7px;top:1191.1px;font-size:14px;font-weight:bold;color:#000;transform:translate(-50%,-50%);font-family:'Liberation Sans', sans-serif;">阪</div>
<div class="t" style="left:190.2px;top:1169.2px;font-size:14px;font-weight:bold;color:#000;transform:translate(-50%,-50%);font-family:'Liberation Sans', sans-serif;">西</div>
<div class="t" style="left:190.2px;top:1184.0px;font-size:14px;font-weight:bold;color:#000;transform:translate(-50%,-50%);font-family:'Liberation Sans', sans-serif;">四</div>
<div class="t" style="left:190.2px;top:1198.8px;font-size:14px;font-weight:bold;color:#000;transform:translate(-50%,-50%);font-family:'Liberation Sans', sans-serif;">国</div>
<div class="t" style="left:253.7px;top:1176.9px;font-size:14px;font-weight:bold;color:#000;transform:translate(-50%,-50%);font-family:'Liberation Sans', sans-serif;">京</div>
<div class="t" style="left:253.7px;top:1191.1px;font-size:14px;font-weight:bold;color:#000;transform:translate(-50%,-50%);font-family:'Liberation Sans', sans-serif;">滋</div>
<div class="t" style="left:302.1px;top:1169.2px;font-size:14px;font-weight:bold;color:#000;transform:translate(-50%,-50%);font-family:'Liberation Sans', sans-serif;">兵</div>
<div class="t" style="left:302.1px;top:1184.0px;font-size:14px;font-weight:bold;color:#000;transform:translate(-50%,-50%);font-family:'Liberation Sans', sans-serif;">庫</div>
<div class="t" style="left:302.1px;top:1198.8px;font-size:14px;font-weight:bold;color:#000;transform:translate(-50%,-50%);font-family:'Liberation Sans', sans-serif;">西</div>
<div class="t" style="left:350.6px;top:1176.9px;font-size:14px;font-weight:bold;color:#000;transform:translate(-50%,-50%);font-family:'Liberation Sans', sans-serif;">大</div>
<div class="t" style="left:350.6px;top:1191.1px;font-size:14px;font-weight:bold;color:#000;transform:translate(-50%,-50%);font-family:'Liberation Sans', sans-serif;">阪</div>
<div class="t" style="left:399.1px;top:1176.9px;font-size:14px;font-weight:bold;color:#000;transform:translate(-50%,-50%);font-family:'Liberation Sans', sans-serif;">京</div>
<div class="t" style="left:399.1px;top:1191.1px;font-size:14px;font-weight:bold;color:#000;transform:translate(-50%,-50%);font-family:'Liberation Sans', sans-serif;">滋</div>
<div class="t" style="left:447.5px;top:1176.9px;font-size:14px;font-weight:bold;color:#000;transform:translate(-50%,-50%);font-family:'Liberation Sans', sans-serif;">大</div>
<div class="t" style="left:447.5px;top:1191.1px;font-size:14px;font-weight:bold;color:#000;transform:translate(-50%,-50%);font-family:'Liberation Sans', sans-serif;">阪</div>
<div class="t" style="left:496.0px;top:1176.9px;font-size:14px;font-weight:bold;color:#000;transform:translate(-50%,-50%);font-family:'Liberation Sans', sans-serif;">東</div>
<div class="t" style="left:496.0px;top:1191.1px;font-size:14px;font-weight:bold;color:#000;transform:translate(-50%,-50%);font-family:'Liberation Sans', sans-serif;">海</div>
<div class="t" style="left:544.5px;top:1176.9px;font-size:14px;font-weight:bold;color:#000;transform:translate(-50%,-50%);font-family:'Liberation Sans', sans-serif;">大</div>
<div class="t" style="left:544.5px;top:1191.1px;font-size:14px;font-weight:bold;color:#000;transform:translate(-50%,-50%);font-family:'Liberation Sans', sans-serif;">阪</div>
<div class="t" style="left:593.0px;top:1176.9px;font-size:14px;font-weight:bold;color:#000;transform:translate(-50%,-50%);font-family:'Liberation Sans', sans-serif;">京</div>
<div class="t" style="left:593.0px;top:1191.1px;font-size:14px;font-weight:bold;color:#000;transform:translate(-50%,-50%);font-family:'Liberation Sans', sans-serif;">滋</div>
<div class="t" style="left:641.4px;top:1176.9px;font-size:14px;font-weight:bold;color:#000;transform:translate(-50%,-50%);font-family:'Liberation Sans', sans-serif;">大</div>
<div class="t" style="left:641.4px;top:1191.1px;font-size:14px;font-weight:bold;color:#000;transform:translate(-50%,-50%);font-family:'Liberation Sans', sans-serif;">阪</div>
<div class="t" style="left:689.9px;top:1169.2px;font-size:14px;font-weight:bold;color:#000;transform:translate(-50%,-50%);font-family:'Liberation Sans', sans-serif;">兵</div>
<div class="t" style="left:689.9px;top:1184.0px;font-size:14px;font-weight:bold;color:#000;transform:translate(-50%,-50%);font-family:'Liberation Sans', sans-serif;">庫</div>
<div class="t" style="left:689.9px;top:1198.8px;font-size:14px;font-weight:bold;color:#000;transform:translate(-50%,-50%);font-family:'Liberation Sans', sans-serif;">東</div>
<div class="t" style="left:738.4px;top:1176.9px;font-size:14px;font-weight:bold;color:#000;transform:translate(-50%,-50%);font-family:'Liberation Sans', sans-serif;">大</div>
<div class="t" style="left:738.4px;top:1191.1px;font-size:14px;font-weight:bold;color:#000;transform:translate(-50%,-50%);font-family:'Liberation Sans', sans-serif;">阪</div>
<div class="t" style="left:772.8px;top:1176.9px;font-size:14px;font-weight:bold;color:#000;transform:translate(-50%,-50%);font-family:'Liberation Sans', sans-serif;">東</div>
<div class="t" style="left:772.8px;top:1191.1px;font-size:14px;font-weight:bold;color:#000;transform:translate(-50%,-50%);font-family:'Liberation Sans', sans-serif;">海</div>
<div class="t" style="left:835.3px;top:1176.9px;font-size:14px;font-weight:bold;color:#000;transform:translate(-50%,-50%);font-family:'Liberation Sans', sans-serif;">大</div>
<div class="t" style="left:835.3px;top:1191.1px;font-size:14px;font-weight:bold;color:#000;transform:translate(-50%,-50%);font-family:'Liberation Sans', sans-serif;">阪</div>
<div class="t" style="left:883.8px;top:1169.2px;font-size:14px;font-weight:bold;color:#000;transform:translate(-50%,-50%);font-family:'Liberation Sans', sans-serif;">兵</div>
<div class="t" style="left:883.8px;top:1184.0px;font-size:14px;font-weight:bold;color:#000;transform:translate(-50%,-50%);font-family:'Liberation Sans', sans-serif;">庫</div>
<div class="t" style="left:883.8px;top:1198.8px;font-size:14px;font-weight:bold;color:#000;transform:translate(-50%,-50%);font-family:'Liberation Sans', sans-serif;">西</div>
<div class="t" style="left:932.2px;top:1176.9px;font-size:14px;font-weight:bold;color:#000;transform:translate(-50%,-50%);font-family:'Liberation Sans', sans-serif;">京</div>
<div class="t" style="left:932.2px;top:1191.1px;font-size:14px;font-weight:bold;color:#000;transform:translate(-50%,-50%);font-family:'Liberation Sans', sans-serif;">滋</div>
<div class="t" style="left:980.7px;top:1176.9px;font-size:14px;font-weight:bold;color:#000;transform:translate(-50%,-50%);font-family:'Liberation Sans', sans-serif;">東</div>
<div class="t" style="left:980.7px;top:1191.1px;font-size:14px;font-weight:bold;color:#000;transform:translate(-50%,-50%);font-family:'Liberation Sans', sans-serif;">海</div>
<div class="t" style="left:1029.2px;top:1176.9px;font-size:14px;font-weight:bold;color:#000;transform:translate(-50%,-50%);font-family:'Liberation Sans', sans-serif;">大</div>
<div class="t" style="left:1029.2px;top:1191.1px;font-size:14px;font-weight:bold;color:#000;transform:translate(-50%,-50%);font-family:'Liberation Sans', sans-serif;">阪</div>
<div class="t" style="left:1077.6px;top:1176.9px;font-size:14px;font-weight:bold;color:#000;transform:translate(-50%,-50%);font-family:'Liberation Sans', sans-serif;">和</div>
<div class="t" style="left:1077.6px;top:1191.1px;font-size:14px;font-weight:bold;color:#000;transform:translate(-50%,-50%);font-family:'Liberation Sans', sans-serif;">奈</div>
<div class="t" style="left:1126.1px;top:1176.9px;font-size:14px;font-weight:bold;color:#000;transform:translate(-50%,-50%);font-family:'Liberation Sans', sans-serif;">大</div>
<div class="t" style="left:1126.1px;top:1191.1px;font-size:14px;font-weight:bold;color:#000;transform:translate(-50%,-50%);font-family:'Liberation Sans', sans-serif;">阪</div>
<div class="t" style="left:1160.2px;top:1169.2px;font-size:14px;font-weight:bold;color:#000;transform:translate(-50%,-50%);font-family:'Liberation Sans', sans-serif;">兵</div>
<div class="t" style="left:1160.2px;top:1184.0px;font-size:14px;font-weight:bold;color:#000;transform:translate(-50%,-50%);font-family:'Liberation Sans', sans-serif;">庫</div>
<div class="t" style="left:1160.2px;top:1198.8px;font-size:14px;font-weight:bold;color:#000;transform:translate(-50%,-50%);font-family:'Liberation Sans', sans-serif;">東</div>
<div class="t" style="left:1223.0px;top:1176.9px;font-size:14px;font-weight:bold;color:#000;transform:translate(-50%,-50%);font-family:'Liberation Sans', sans-serif;">大</div>
<div class="t" style="left:1223.0px;top:1191.1px;font-size:14px;font-weight:bold;color:#000;transform:translate(-50%,-50%);font-family:'Liberation Sans', sans-serif;">阪</div>
<div class="t" style="left:1271.5px;top:1169.2px;font-size:14px;font-weight:bold;color:#000;transform:translate(-50%,-50%);font-family:'Liberation Sans', sans-serif;">兵</div>
<div class="t" style="left:1271.5px;top:1184.0px;font-size:14px;font-weight:bold;color:#000;transform:translate(-50%,-50%);font-family:'Liberation Sans', sans-serif;">庫</div>
<div class="t" style="left:1271.5px;top:1198.8px;font-size:14px;font-weight:bold;color:#000;transform:translate(-50%,-50%);font-family:'Liberation Sans', sans-serif;">東</div>
<div class="t" style="left:1320.0px;top:1176.9px;font-size:14px;font-weight:bold;color:#000;transform:translate(-50%,-50%);font-family:'Liberation Sans', sans-serif;">北</div>
<div class="t" style="left:1320.0px;top:1191.1px;font-size:14px;font-weight:bold;color:#000;transform:translate(-50%,-50%);font-family:'Liberation Sans', sans-serif;">陸</div>
<div class="t" style="left:1368.5px;top:1176.9px;font-size:14px;font-weight:bold;color:#000;transform:translate(-50%,-50%);font-family:'Liberation Sans', sans-serif;">和</div>
<div class="t" style="left:1368.5px;top:1191.1px;font-size:14px;font-weight:bold;color:#000;transform:translate(-50%,-50%);font-family:'Liberation Sans', sans-serif;">奈</div>
<div class="t" style="left:1416.9px;top:1176.9px;font-size:14px;font-weight:bold;color:#000;transform:translate(-50%,-50%);font-family:'Liberation Sans', sans-serif;">大</div>
<div class="t" style="left:1416.9px;top:1191.1px;font-size:14px;font-weight:bold;color:#000;transform:translate(-50%,-50%);font-family:'Liberation Sans', sans-serif;">阪</div>
<div class="t" style="left:1465.4px;top:1169.2px;font-size:14px;font-weight:bold;color:#000;transform:translate(-50%,-50%);font-family:'Liberation Sans', sans-serif;">東</div>
<div class="t" style="left:1465.4px;top:1184.0px;font-size:14px;font-weight:bold;color:#000;transform:translate(-50%,-50%);font-family:'Liberation Sans', sans-serif;">四</div>
<div class="t" style="left:1465.4px;top:1198.8px;font-size:14px;font-weight:bold;color:#000;transform:translate(-50%,-50%);font-family:'Liberation Sans', sans-serif;">国</div>
<div class="t" style="left:1513.9px;top:1176.9px;font-size:14px;font-weight:bold;color:#000;transform:translate(-50%,-50%);font-family:'Liberation Sans', sans-serif;">東</div>
<div class="t" style="left:1513.9px;top:1191.1px;font-size:14px;font-weight:bold;color:#000;transform:translate(-50%,-50%);font-family:'Liberation Sans', sans-serif;">海</div>
<div class="t" style="left:1562.3px;top:1176.9px;font-size:14px;font-weight:bold;color:#000;transform:translate(-50%,-50%);font-family:'Liberation Sans', sans-serif;">和</div>
<div class="t" style="left:1562.3px;top:1191.1px;font-size:14px;font-weight:bold;color:#000;transform:translate(-50%,-50%);font-family:'Liberation Sans', sans-serif;">奈</div>
<div class="t" style="left:1610.8px;top:1176.9px;font-size:14px;font-weight:bold;color:#000;transform:translate(-50%,-50%);font-family:'Liberation Sans', sans-serif;">大</div>
<div class="t" style="left:1610.8px;top:1191.1px;font-size:14px;font-weight:bold;color:#000;transform:translate(-50%,-50%);font-family:'Liberation Sans', sans-serif;">阪</div>
<div class="t" style="left:1659.3px;top:1176.9px;font-size:14px;font-weight:bold;color:#000;transform:translate(-50%,-50%);font-family:'Liberation Sans', sans-serif;">北</div>
<div class="t" style="left:1659.3px;top:1191.1px;font-size:14px;font-weight:bold;color:#000;transform:translate(-50%,-50%);font-family:'Liberation Sans', sans-serif;">陸</div>
</body></html>
